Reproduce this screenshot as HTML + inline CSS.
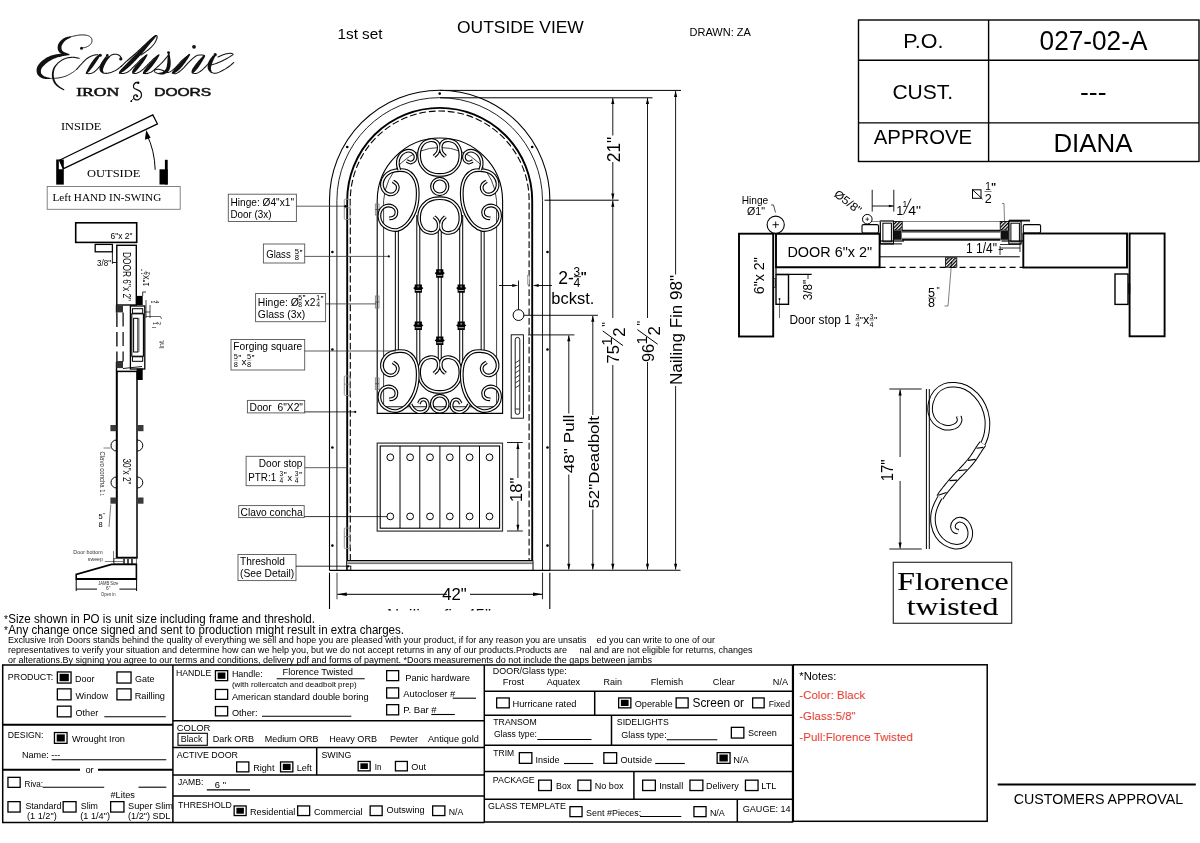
<!DOCTYPE html>
<html><head><meta charset="utf-8"><title>Drawing</title>
<style>
html,body{margin:0;padding:0;background:#fff;overflow:hidden;}
svg{display:block;}
</style></head><body>
<svg width="1200" height="843" viewBox="0 0 1200 843">
<rect x="0" y="0" width="1200" height="843" fill="#fff"/>
<filter id="gs" x="0" y="0" width="1200" height="843" filterUnits="userSpaceOnUse" color-interpolation-filters="sRGB"><feColorMatrix type="saturate" values="0"/></filter>
<g filter="url(#gs)">
<text x="337.5" y="39.1" font-family='"Liberation Sans", sans-serif' font-size="15.2" fill="#000" textLength="45" lengthAdjust="spacingAndGlyphs" >1st set</text>
<text x="457" y="33.4" font-family='"Liberation Sans", sans-serif' font-size="16.2" fill="#000" textLength="126.8" lengthAdjust="spacingAndGlyphs" >OUTSIDE VIEW</text>
<text x="689.5" y="36.2" font-family='"Liberation Sans", sans-serif' font-size="11.4" fill="#000" textLength="61.3" lengthAdjust="spacingAndGlyphs" >DRAWN: ZA</text>
<rect x="858.5" y="20" width="340.5" height="141.5" stroke="#000" stroke-width="1.4" fill="none" />
<line x1="988.6" y1="20" x2="988.6" y2="161.5" stroke="#000" stroke-width="1.4" />
<line x1="858.5" y1="60.3" x2="1199" y2="60.3" stroke="#000" stroke-width="1.4" />
<line x1="858.5" y1="122.9" x2="1199" y2="122.9" stroke="#000" stroke-width="1.4" />
<text x="903.2" y="47.5" font-family='"Liberation Sans", sans-serif' font-size="20.8" fill="#000" textLength="40.2" lengthAdjust="spacingAndGlyphs" >P.O.</text>
<text x="1039.6" y="49.9" font-family='"Liberation Sans", sans-serif' font-size="27" fill="#000" textLength="107.8" lengthAdjust="spacingAndGlyphs" >027-02-A</text>
<text x="892.4" y="98.9" font-family='"Liberation Sans", sans-serif' font-size="20.3" fill="#000" textLength="60.8" lengthAdjust="spacingAndGlyphs" >CUST.</text>
<text x="1080" y="101.2" font-family='"Liberation Sans", sans-serif' font-size="25.5" fill="#000" textLength="26.5" lengthAdjust="spacingAndGlyphs" >---</text>
<text x="873.8" y="143.6" font-family='"Liberation Sans", sans-serif' font-size="19.8" fill="#000" textLength="98.4" lengthAdjust="spacingAndGlyphs" >APPROVE</text>
<text x="1053.4" y="152" font-family='"Liberation Sans", sans-serif' font-size="26" fill="#000" textLength="79" lengthAdjust="spacingAndGlyphs" >DIANA</text>
<path d="M81.70,47.90 L82.07,47.85 L82.56,47.80 L83.15,47.74 L83.81,47.67 L84.50,47.57 L85.19,47.43 L85.87,47.24 L86.50,47.00 L87.12,46.70 L87.78,46.34 L88.46,45.94 L89.12,45.51 L89.76,45.04 L90.33,44.54 L90.82,44.03 L91.20,43.50 L91.49,42.93 L91.71,42.31 L91.86,41.65 L91.95,40.97 L91.97,40.29 L91.92,39.64 L91.79,39.04 L91.60,38.50 L91.33,38.01 L90.97,37.55 L90.54,37.12 L90.04,36.72 L89.48,36.35 L88.87,36.03 L88.21,35.74 L87.50,35.50 L86.74,35.30 L85.90,35.15 L85.00,35.03 L84.06,34.96 L83.07,34.92 L82.06,34.91 L81.03,34.94 L80.00,35.00 L78.89,35.12 L77.64,35.31 L76.34,35.55 L75.03,35.82 L73.78,36.09 L72.65,36.34 L71.70,36.55 L71.00,36.70" fill="none" stroke="#111" stroke-width="0.9" stroke-linecap="round"/>
<path d="M70.83,36.28 L70.39,36.28 L69.84,36.36 L69.18,36.48 L68.44,36.63 L67.65,36.83 L66.83,37.06 L66.00,37.32 L65.19,37.62 L64.41,37.96 L63.69,38.34 L63.03,38.76 L62.41,39.21 L61.81,39.70 L61.23,40.22 L60.68,40.76 L60.16,41.32 L59.68,41.90 L59.24,42.49 L58.85,43.10 L58.51,43.71 L58.22,44.35 L57.99,45.01 L57.82,45.68 L57.70,46.34 L57.64,46.99 L57.63,47.64 L57.66,48.26 L57.73,48.86 L57.85,49.44 L58.00,50.00 L58.20,50.53 L58.44,51.05 L58.73,51.54 L59.06,52.00 L59.43,52.43 L59.84,52.83 L60.29,53.19 L60.77,53.51 L61.28,53.79 L61.84,54.05 L62.49,54.28 L63.20,54.45 L63.94,54.59 L64.70,54.69 L65.46,54.76 L66.20,54.81 L66.89,54.84 L67.50,54.84 L68.01,54.82 L68.40,54.74 L68.60,53.86 L68.25,53.62 L67.76,53.41 L67.19,53.19 L66.55,52.98 L65.88,52.75 L65.20,52.52 L64.55,52.27 L63.97,52.03 L63.50,51.78 L63.16,51.55 L62.89,51.31 L62.63,51.05 L62.41,50.80 L62.22,50.55 L62.07,50.30 L61.94,50.05 L61.83,49.80 L61.74,49.55 L61.66,49.28 L61.60,49.00 L61.55,48.69 L61.51,48.35 L61.48,47.99 L61.47,47.61 L61.49,47.22 L61.52,46.82 L61.58,46.43 L61.66,46.04 L61.76,45.66 L61.89,45.29 L62.07,44.88 L62.31,44.44 L62.58,43.96 L62.90,43.47 L63.26,42.96 L63.64,42.47 L64.04,41.98 L64.46,41.51 L64.89,41.06 L65.31,40.66 L65.77,40.28 L66.34,39.89 L66.98,39.50 L67.67,39.12 L68.38,38.75 L69.08,38.39 L69.74,38.05 L70.33,37.73 L70.82,37.43 L71.17,37.12 Z" fill="#111"/>
<circle cx="81.5" cy="48.2" r="1.5" fill="#111"/>
<path d="M69.48,54.15 L69.05,54.08 L68.49,54.01 L67.84,53.93 L67.09,53.86 L66.29,53.80 L65.43,53.75 L64.53,53.71 L63.62,53.70 L62.71,53.70 L61.83,53.74 L60.96,53.79 L60.06,53.85 L59.13,53.93 L58.18,54.02 L57.20,54.14 L56.22,54.28 L55.24,54.46 L54.25,54.66 L53.27,54.90 L52.31,55.19 L51.38,55.51 L50.45,55.86 L49.53,56.25 L48.61,56.67 L47.72,57.11 L46.84,57.59 L45.98,58.08 L45.15,58.60 L44.35,59.13 L43.59,59.68 L42.85,60.24 L42.12,60.84 L41.41,61.47 L40.72,62.12 L40.06,62.79 L39.43,63.49 L38.84,64.21 L38.31,64.94 L37.83,65.71 L37.42,66.49 L37.10,67.30 L36.86,68.12 L36.69,68.94 L36.60,69.75 L36.57,70.56 L36.61,71.35 L36.72,72.11 L36.89,72.85 L37.11,73.56 L37.41,74.25 L37.79,74.90 L38.25,75.51 L38.75,76.05 L39.30,76.53 L39.87,76.96 L40.47,77.34 L41.08,77.68 L41.71,77.98 L42.34,78.24 L43.00,78.47 L43.72,78.66 L44.50,78.80 L45.30,78.88 L46.11,78.93 L46.91,78.95 L47.68,78.95 L48.39,78.94 L49.02,78.91 L49.54,78.88 L49.94,78.85 L50.06,77.95 L49.66,77.81 L49.14,77.68 L48.52,77.53 L47.84,77.38 L47.12,77.22 L46.39,77.04 L45.68,76.84 L45.03,76.62 L44.46,76.38 L44.00,76.13 L43.58,75.84 L43.14,75.51 L42.72,75.17 L42.33,74.82 L41.98,74.45 L41.67,74.09 L41.41,73.73 L41.21,73.38 L41.08,73.06 L40.99,72.75 L40.93,72.42 L40.88,72.03 L40.86,71.61 L40.86,71.17 L40.90,70.72 L40.97,70.26 L41.07,69.80 L41.21,69.35 L41.38,68.92 L41.58,68.51 L41.83,68.08 L42.15,67.61 L42.54,67.10 L42.98,66.57 L43.48,66.02 L44.02,65.47 L44.59,64.91 L45.19,64.37 L45.80,63.83 L46.41,63.32 L47.04,62.83 L47.70,62.33 L48.39,61.84 L49.11,61.36 L49.85,60.89 L50.60,60.43 L51.37,59.99 L52.14,59.57 L52.92,59.18 L53.69,58.81 L54.46,58.48 L55.27,58.17 L56.11,57.88 L56.98,57.60 L57.86,57.35 L58.74,57.11 L59.63,56.88 L60.50,56.67 L61.36,56.46 L62.17,56.26 L62.98,56.08 L63.81,55.93 L64.66,55.79 L65.51,55.66 L66.34,55.55 L67.13,55.44 L67.86,55.35 L68.52,55.25 L69.08,55.15 L69.52,55.05 Z" fill="#111"/>
<path d="M50.00,78.40 L50.62,78.38 L51.44,78.37 L52.41,78.35 L53.50,78.33 L54.65,78.28 L55.81,78.22 L56.95,78.13 L58.00,78.00 L59.01,77.84 L60.04,77.65 L61.07,77.43 L62.09,77.19 L63.11,76.93 L64.11,76.64 L65.07,76.33 L66.00,76.00 L66.90,75.63 L67.79,75.22 L68.66,74.78 L69.50,74.31 L70.31,73.84 L71.09,73.38 L71.82,72.92 L72.50,72.50 L73.15,72.08 L73.77,71.64 L74.36,71.21 L74.91,70.78 L75.40,70.38 L75.84,70.03 L76.21,69.73 L76.50,69.50" fill="none" stroke="#111" stroke-width="0.9" stroke-linecap="round"/>
<path d="M79.20,58.30 L78.65,58.20 L77.92,58.06 L77.06,57.88 L76.10,57.69 L75.08,57.52 L74.03,57.38 L72.99,57.30 L72.00,57.30 L71.02,57.37 L70.01,57.48 L68.97,57.64 L67.92,57.84 L66.89,58.08 L65.88,58.35 L64.91,58.66 L64.00,59.00 L63.11,59.42 L62.22,59.93 L61.34,60.51 L60.50,61.11 L59.72,61.69 L59.03,62.23 L58.45,62.68 L58.00,63.00" fill="none" stroke="#111" stroke-width="1.05" stroke-linecap="round"/>
<path d="M57.65,62.71 L57.38,62.96 L57.04,63.28 L56.63,63.68 L56.17,64.13 L55.69,64.64 L55.20,65.19 L54.71,65.78 L54.25,66.39 L53.83,67.03 L53.48,67.68 L53.19,68.33 L52.93,69.01 L52.69,69.72 L52.48,70.45 L52.29,71.20 L52.14,71.96 L52.01,72.73 L51.92,73.50 L51.87,74.26 L51.86,75.02 L51.89,75.78 L51.96,76.55 L52.06,77.33 L52.20,78.11 L52.38,78.89 L52.58,79.65 L52.81,80.39 L53.07,81.10 L53.35,81.78 L53.66,82.42 L53.99,83.03 L54.36,83.59 L54.75,84.12 L55.17,84.61 L55.61,85.07 L56.06,85.51 L56.53,85.93 L57.01,86.33 L57.50,86.72 L58.01,87.11 L58.58,87.52 L59.21,87.93 L59.89,88.33 L60.58,88.72 L61.27,89.09 L61.95,89.44 L62.57,89.75 L63.13,90.02 L63.60,90.24 L63.97,90.39 L64.43,89.61 L64.10,89.36 L63.66,89.06 L63.14,88.73 L62.55,88.36 L61.93,87.97 L61.28,87.56 L60.64,87.13 L60.03,86.71 L59.48,86.29 L58.99,85.89 L58.54,85.48 L58.10,85.08 L57.68,84.68 L57.27,84.27 L56.89,83.86 L56.54,83.44 L56.20,83.01 L55.89,82.56 L55.61,82.09 L55.34,81.58 L55.09,81.02 L54.86,80.42 L54.63,79.78 L54.43,79.11 L54.25,78.43 L54.09,77.73 L53.96,77.02 L53.85,76.33 L53.78,75.64 L53.74,74.98 L53.74,74.32 L53.76,73.64 L53.82,72.95 L53.91,72.25 L54.02,71.55 L54.16,70.86 L54.32,70.19 L54.50,69.53 L54.70,68.91 L54.92,68.32 L55.17,67.76 L55.48,67.19 L55.86,66.61 L56.26,66.04 L56.68,65.48 L57.10,64.95 L57.50,64.46 L57.85,64.01 L58.15,63.62 L58.35,63.29 Z" fill="#111"/>
<path d="M76.50,69.50 L76.84,69.12 L77.27,68.62 L77.79,68.04 L78.38,67.38 L79.00,66.67 L79.66,65.94 L80.33,65.21 L81.00,64.50 L81.68,63.78 L82.39,63.00 L83.14,62.19 L83.91,61.38 L84.68,60.57 L85.46,59.81 L86.24,59.11 L87.00,58.50 L87.76,57.97 L88.54,57.49 L89.32,57.06 L90.09,56.68 L90.86,56.34 L91.61,56.03 L92.32,55.75 L93.00,55.50 L93.67,55.28 L94.34,55.11 L95.00,54.97 L95.62,54.86 L96.21,54.78 L96.73,54.71 L97.16,54.66 L97.50,54.60" fill="none" stroke="#111" stroke-width="1.05" stroke-linecap="round"/>
<path d="M99.86,54.00 L99.54,54.09 L99.21,54.27 L98.85,54.49 L98.46,54.77 L98.04,55.09 L97.60,55.44 L97.16,55.82 L96.71,56.22 L96.26,56.65 L95.83,57.08 L95.40,57.54 L94.96,58.02 L94.52,58.53 L94.07,59.07 L93.63,59.62 L93.18,60.19 L92.75,60.76 L92.32,61.33 L91.91,61.90 L91.51,62.46 L91.12,63.03 L90.74,63.60 L90.36,64.19 L90.00,64.77 L89.65,65.36 L89.31,65.94 L88.98,66.51 L88.66,67.08 L88.36,67.63 L88.07,68.16 L87.79,68.70 L87.49,69.25 L87.19,69.81 L86.91,70.37 L86.63,70.92 L86.39,71.44 L86.17,71.93 L85.99,72.38 L85.87,72.78 L85.83,73.14 L86.57,73.66 L86.89,73.51 L87.23,73.26 L87.60,72.95 L87.99,72.58 L88.40,72.17 L88.83,71.73 L89.26,71.27 L89.69,70.79 L90.12,70.31 L90.53,69.84 L90.93,69.36 L91.33,68.86 L91.73,68.35 L92.14,67.82 L92.54,67.28 L92.94,66.73 L93.33,66.18 L93.73,65.63 L94.11,65.08 L94.49,64.54 L94.88,63.99 L95.27,63.41 L95.66,62.83 L96.05,62.24 L96.44,61.65 L96.81,61.07 L97.18,60.50 L97.53,59.95 L97.86,59.42 L98.17,58.92 L98.47,58.44 L98.77,57.95 L99.08,57.46 L99.38,56.99 L99.66,56.53 L99.92,56.09 L100.15,55.67 L100.34,55.28 L100.48,54.93 L100.54,54.60 Z" fill="#111"/>
<circle cx="100.3" cy="55.2" r="1.5" fill="#111"/>
<path d="M86.20,73.40 L86.45,73.43 L86.76,73.48 L87.14,73.54 L87.57,73.60 L88.03,73.65 L88.51,73.67 L89.01,73.66 L89.50,73.60 L89.99,73.52 L90.51,73.43 L91.03,73.33 L91.58,73.19 L92.15,73.00 L92.74,72.75 L93.36,72.42 L94.00,72.00 L94.69,71.47 L95.43,70.83 L96.21,70.12 L97.00,69.34 L97.79,68.52 L98.57,67.67 L99.31,66.83 L100.00,66.00 L100.65,65.15 L101.27,64.24 L101.88,63.30 L102.46,62.36 L103.01,61.43 L103.54,60.54 L104.03,59.72 L104.50,59.00 L104.94,58.35 L105.36,57.76 L105.76,57.21 L106.13,56.71 L106.46,56.27 L106.76,55.89 L107.00,55.56 L107.20,55.30" fill="none" stroke="#111" stroke-width="1.05" stroke-linecap="round"/>
<circle cx="107.3" cy="55.4" r="1.3" fill="#111"/>
<path d="M108.80,57.20 L109.04,57.00 L109.34,56.72 L109.71,56.39 L110.12,56.03 L110.56,55.67 L111.03,55.32 L111.52,55.03 L112.00,54.80 L112.51,54.63 L113.06,54.49 L113.64,54.38 L114.23,54.29 L114.83,54.24 L115.41,54.23 L115.98,54.24 L116.50,54.30 L117.00,54.40 L117.49,54.55 L117.98,54.74 L118.44,54.96 L118.89,55.20 L119.30,55.46 L119.67,55.73 L120.00,56.00 L120.29,56.30 L120.53,56.65 L120.74,57.02 L120.92,57.41 L121.07,57.78 L121.20,58.11 L121.31,58.39 L121.40,58.60" fill="none" stroke="#111" stroke-width="1.05" stroke-linecap="round"/>
<circle cx="120.8" cy="58.9" r="1.6" fill="#111"/>
<path d="M109.21,56.15 L108.85,56.19 L108.45,56.30 L108.00,56.48 L107.50,56.71 L106.96,56.98 L106.41,57.30 L105.84,57.66 L105.28,58.05 L104.74,58.49 L104.23,58.95 L103.76,59.44 L103.30,59.96 L102.85,60.51 L102.41,61.09 L101.99,61.69 L101.60,62.30 L101.23,62.92 L100.89,63.53 L100.59,64.13 L100.33,64.71 L100.11,65.27 L99.91,65.82 L99.75,66.38 L99.62,66.94 L99.52,67.50 L99.47,68.06 L99.45,68.61 L99.47,69.16 L99.54,69.71 L99.67,70.27 L99.90,70.87 L100.21,71.40 L100.56,71.85 L100.93,72.23 L101.31,72.56 L101.69,72.84 L102.04,73.06 L102.37,73.23 L102.65,73.33 L102.94,73.37 L103.66,72.83 L103.68,72.51 L103.60,72.17 L103.47,71.82 L103.32,71.46 L103.18,71.10 L103.04,70.75 L102.94,70.41 L102.89,70.12 L102.89,69.90 L102.93,69.73 L102.98,69.52 L103.04,69.25 L103.12,68.96 L103.21,68.64 L103.31,68.30 L103.43,67.94 L103.57,67.55 L103.73,67.15 L103.89,66.73 L104.07,66.29 L104.27,65.84 L104.50,65.34 L104.75,64.80 L105.03,64.25 L105.32,63.68 L105.62,63.11 L105.92,62.56 L106.22,62.02 L106.51,61.51 L106.77,61.05 L107.04,60.62 L107.35,60.18 L107.70,59.73 L108.07,59.27 L108.45,58.83 L108.81,58.39 L109.15,57.98 L109.44,57.58 L109.67,57.21 L109.79,56.85 Z" fill="#111"/>
<path d="M103.30,73.10 L103.58,73.13 L103.93,73.17 L104.36,73.23 L104.84,73.28 L105.35,73.33 L105.90,73.35 L106.45,73.35 L107.00,73.30 L107.56,73.22 L108.16,73.11 L108.78,72.98 L109.42,72.82 L110.07,72.64 L110.72,72.44 L111.37,72.23 L112.00,72.00 L112.63,71.75 L113.27,71.47 L113.92,71.17 L114.56,70.86 L115.20,70.53 L115.82,70.19 L116.42,69.84 L117.00,69.50 L117.58,69.13 L118.16,68.71 L118.75,68.28 L119.31,67.84 L119.84,67.43 L120.30,67.05 L120.70,66.73 L121.00,66.50" fill="none" stroke="#111" stroke-width="1.05" stroke-linecap="round"/>
<path d="M121.00,66.50 L121.54,66.00 L122.26,65.32 L123.11,64.52 L124.06,63.62 L125.07,62.69 L126.09,61.74 L127.08,60.83 L128.00,60.00 L128.88,59.23 L129.75,58.48 L130.62,57.74 L131.50,57.00 L132.38,56.26 L133.25,55.52 L134.12,54.77 L135.00,54.00 L135.88,53.21 L136.76,52.40 L137.65,51.58 L138.53,50.75 L139.41,49.92 L140.29,49.10 L141.15,48.29 L142.00,47.50 L142.85,46.72 L143.70,45.93 L144.54,45.15 L145.38,44.38 L146.19,43.62 L146.99,42.88 L147.76,42.17 L148.50,41.50 L149.21,40.85 L149.90,40.20 L150.57,39.57 L151.22,38.97 L151.84,38.40 L152.43,37.88 L152.98,37.41 L153.50,37.00 L153.99,36.64 L154.45,36.32 L154.88,36.04 L155.28,35.81 L155.65,35.64 L155.97,35.52 L156.26,35.48 L156.50,35.50 L156.71,35.60 L156.88,35.76 L157.02,35.99 L157.12,36.28 L157.18,36.63 L157.18,37.04 L157.12,37.49 L157.00,38.00 L156.81,38.58 L156.57,39.25 L156.26,39.99 L155.91,40.78 L155.50,41.60 L155.04,42.42 L154.54,43.23 L154.00,44.00 L153.40,44.76 L152.73,45.52 L152.01,46.29 L151.25,47.06 L150.46,47.82 L149.64,48.57 L148.82,49.30 L148.00,50.00 L147.12,50.71 L146.16,51.44 L145.14,52.17 L144.12,52.88 L143.16,53.54 L142.28,54.12 L141.55,54.62 L141.00,55.00" fill="none" stroke="#111" stroke-width="1.05" stroke-linecap="round"/>
<path d="M155.89,35.08 L155.38,35.27 L154.84,35.61 L154.22,36.03 L153.55,36.53 L152.83,37.09 L152.07,37.70 L151.29,38.36 L150.50,39.05 L149.70,39.76 L148.91,40.48 L148.13,41.24 L147.31,42.04 L146.48,42.89 L145.63,43.78 L144.77,44.68 L143.91,45.60 L143.05,46.51 L142.20,47.42 L141.36,48.31 L140.54,49.17 L139.72,50.01 L138.90,50.86 L138.08,51.71 L137.26,52.56 L136.44,53.40 L135.63,54.24 L134.82,55.07 L134.03,55.90 L133.24,56.71 L132.46,57.51 L131.69,58.31 L130.91,59.12 L130.12,59.92 L129.34,60.73 L128.58,61.52 L127.83,62.29 L127.10,63.03 L126.41,63.75 L125.75,64.43 L125.13,65.07 L124.56,65.66 L124.01,66.22 L123.48,66.75 L122.98,67.26 L122.50,67.75 L122.04,68.21 L121.61,68.66 L121.21,69.09 L120.83,69.50 L120.49,69.91 L120.18,70.29 L119.90,70.65 L119.67,70.99 L119.46,71.31 L119.29,71.61 L119.16,71.89 L119.05,72.15 L118.98,72.39 L118.94,72.62 L118.98,72.88 L119.62,73.52 L119.90,73.54 L120.13,73.49 L120.37,73.40 L120.62,73.29 L120.88,73.15 L121.16,72.99 L121.46,72.80 L121.79,72.59 L122.14,72.35 L122.51,72.09 L122.92,71.81 L123.35,71.50 L123.82,71.17 L124.31,70.81 L124.84,70.42 L125.39,69.99 L125.98,69.53 L126.58,69.03 L127.22,68.50 L127.87,67.93 L128.55,67.32 L129.26,66.66 L130.00,65.97 L130.76,65.24 L131.55,64.48 L132.34,63.71 L133.15,62.91 L133.95,62.11 L134.75,61.30 L135.54,60.49 L136.32,59.68 L137.11,58.85 L137.90,58.00 L138.70,57.15 L139.50,56.28 L140.30,55.41 L141.09,54.52 L141.89,53.63 L142.68,52.73 L143.46,51.83 L144.25,50.91 L145.06,49.95 L145.86,48.98 L146.66,48.00 L147.45,47.02 L148.23,46.05 L148.98,45.11 L149.72,44.20 L150.42,43.33 L151.09,42.52 L151.74,41.73 L152.41,40.95 L153.08,40.17 L153.74,39.41 L154.37,38.68 L154.95,37.99 L155.48,37.35 L155.94,36.76 L156.30,36.23 L156.51,35.72 Z" fill="#111"/>
<path d="M119.30,73.20 L119.62,73.23 L120.04,73.29 L120.53,73.35 L121.09,73.42 L121.68,73.47 L122.30,73.49 L122.91,73.47 L123.50,73.40 L124.08,73.29 L124.66,73.17 L125.25,73.02 L125.86,72.84 L126.48,72.61 L127.13,72.31 L127.80,71.95 L128.50,71.50 L129.24,70.95 L130.02,70.30 L130.83,69.57 L131.66,68.79 L132.50,67.97 L133.34,67.13 L134.18,66.30 L135.00,65.50 L135.82,64.70 L136.65,63.86 L137.48,63.00 L138.31,62.14 L139.14,61.29 L139.95,60.48 L140.74,59.71 L141.50,59.00 L142.27,58.34 L143.07,57.69 L143.88,57.07 L144.66,56.49 L145.38,55.97 L146.04,55.50 L146.58,55.11 L147.00,54.80" fill="none" stroke="#111" stroke-width="1.05" stroke-linecap="round"/>
<path d="M146.65,54.52 L146.23,54.74 L145.78,55.09 L145.28,55.52 L144.74,56.02 L144.17,56.57 L143.58,57.16 L142.99,57.76 L142.40,58.37 L141.82,58.96 L141.28,59.51 L140.75,60.05 L140.20,60.62 L139.65,61.20 L139.09,61.79 L138.53,62.39 L137.99,62.99 L137.45,63.58 L136.94,64.17 L136.46,64.74 L136.00,65.29 L135.58,65.82 L135.17,66.35 L134.78,66.87 L134.42,67.38 L134.07,67.88 L133.75,68.36 L133.46,68.82 L133.19,69.26 L132.95,69.67 L132.75,70.06 L132.57,70.42 L132.42,70.76 L132.30,71.08 L132.21,71.37 L132.14,71.64 L132.10,71.89 L132.09,72.12 L132.10,72.33 L132.14,72.53 L132.23,72.75 L132.97,73.25 L133.21,73.25 L133.41,73.20 L133.61,73.13 L133.81,73.03 L134.02,72.92 L134.24,72.78 L134.47,72.61 L134.71,72.42 L134.97,72.20 L135.25,71.94 L135.56,71.64 L135.89,71.31 L136.24,70.94 L136.60,70.55 L136.98,70.12 L137.36,69.68 L137.76,69.21 L138.17,68.72 L138.58,68.22 L139.00,67.71 L139.43,67.18 L139.88,66.61 L140.36,66.02 L140.84,65.40 L141.34,64.76 L141.84,64.11 L142.33,63.45 L142.81,62.79 L143.28,62.13 L143.72,61.49 L144.16,60.83 L144.61,60.13 L145.07,59.41 L145.52,58.69 L145.96,57.98 L146.36,57.29 L146.71,56.64 L147.01,56.05 L147.24,55.53 L147.35,55.08 Z" fill="#111"/>
<path d="M132.60,73.00 L132.85,73.05 L133.17,73.14 L133.56,73.24 L133.99,73.35 L134.46,73.44 L134.96,73.49 L135.48,73.48 L136.00,73.40 L136.54,73.26 L137.10,73.08 L137.69,72.86 L138.31,72.60 L138.94,72.29 L139.61,71.92 L140.29,71.49 L141.00,71.00 L141.74,70.43 L142.52,69.76 L143.33,69.04 L144.16,68.26 L145.00,67.44 L145.84,66.62 L146.68,65.80 L147.50,65.00 L148.32,64.19 L149.16,63.34 L150.00,62.48 L150.84,61.61 L151.67,60.75 L152.48,59.94 L153.26,59.18 L154.00,58.50 L154.73,57.88 L155.47,57.29 L156.20,56.74 L156.91,56.24 L157.56,55.79 L158.14,55.40 L158.62,55.07 L159.00,54.80" fill="none" stroke="#111" stroke-width="1.05" stroke-linecap="round"/>
<path d="M158.65,54.52 L158.23,54.74 L157.78,55.09 L157.28,55.52 L156.74,56.02 L156.17,56.57 L155.58,57.16 L154.99,57.76 L154.40,58.37 L153.82,58.96 L153.28,59.51 L152.75,60.06 L152.21,60.63 L151.66,61.21 L151.11,61.80 L150.56,62.40 L150.02,62.99 L149.49,63.58 L148.98,64.16 L148.50,64.71 L148.04,65.25 L147.60,65.76 L147.17,66.27 L146.75,66.77 L146.35,67.27 L145.96,67.75 L145.59,68.22 L145.24,68.68 L144.91,69.12 L144.61,69.55 L144.33,69.95 L144.09,70.33 L143.86,70.70 L143.66,71.05 L143.48,71.39 L143.32,71.71 L143.18,72.02 L143.07,72.30 L142.99,72.57 L142.95,72.83 L142.97,73.10 L143.63,73.70 L143.89,73.70 L144.15,73.64 L144.41,73.54 L144.69,73.41 L144.98,73.25 L145.29,73.06 L145.62,72.85 L145.96,72.61 L146.31,72.34 L146.67,72.05 L147.04,71.74 L147.43,71.39 L147.83,71.02 L148.26,70.62 L148.69,70.20 L149.14,69.75 L149.59,69.28 L150.04,68.79 L150.50,68.28 L150.96,67.75 L151.43,67.21 L151.90,66.63 L152.39,66.02 L152.88,65.39 L153.38,64.75 L153.87,64.10 L154.35,63.44 L154.83,62.78 L155.28,62.13 L155.72,61.49 L156.16,60.83 L156.61,60.13 L157.07,59.41 L157.52,58.69 L157.96,57.98 L158.36,57.29 L158.71,56.64 L159.01,56.05 L159.24,55.53 L159.35,55.08 Z" fill="#111"/>
<path d="M143.30,73.40 L143.58,73.42 L143.93,73.47 L144.36,73.52 L144.84,73.58 L145.35,73.61 L145.90,73.62 L146.45,73.59 L147.00,73.50 L147.55,73.37 L148.12,73.23 L148.71,73.06 L149.32,72.85 L149.96,72.60 L150.61,72.30 L151.29,71.93 L152.00,71.50 L152.75,70.98 L153.55,70.36 L154.39,69.67 L155.25,68.94 L156.11,68.18 L156.95,67.42 L157.75,66.69 L158.50,66.00 L159.20,65.35 L159.87,64.73 L160.51,64.11 L161.12,63.50 L161.73,62.89 L162.32,62.27 L162.91,61.65 L163.50,61.00 L164.11,60.32 L164.74,59.60 L165.38,58.86 L166.00,58.12 L166.59,57.40 L167.13,56.71 L167.61,56.07 L168.00,55.50 L168.30,54.98 L168.52,54.50 L168.68,54.06 L168.78,53.66 L168.85,53.30 L168.90,52.98 L168.95,52.71 L169.00,52.50" fill="none" stroke="#111" stroke-width="1.05" stroke-linecap="round"/>
<circle cx="168.5" cy="52.6" r="1.4" fill="#111"/>
<path d="M168.15,53.03 L168.02,53.33 L167.94,53.72 L167.87,54.16 L167.82,54.66 L167.77,55.19 L167.72,55.76 L167.68,56.33 L167.64,56.92 L167.60,57.49 L167.56,58.04 L167.51,58.61 L167.48,59.20 L167.45,59.80 L167.43,60.40 L167.40,61.00 L167.37,61.60 L167.33,62.18 L167.28,62.74 L167.22,63.28 L167.15,63.80 L167.06,64.35 L166.97,64.91 L166.88,65.47 L166.78,66.00 L166.67,66.51 L166.56,67.00 L166.43,67.46 L166.30,67.87 L166.15,68.25 L165.98,68.60 L165.79,68.94 L165.55,69.29 L165.29,69.65 L164.99,70.00 L164.68,70.34 L164.34,70.67 L164.00,70.98 L163.65,71.27 L163.29,71.54 L162.97,71.77 L162.64,71.96 L162.23,72.13 L161.76,72.28 L161.23,72.42 L160.69,72.54 L160.16,72.64 L159.65,72.75 L159.18,72.86 L158.77,72.98 L158.47,73.15 L158.53,74.05 L158.83,74.18 L159.21,74.27 L159.68,74.36 L160.22,74.44 L160.81,74.50 L161.43,74.54 L162.08,74.54 L162.73,74.50 L163.40,74.40 L164.03,74.23 L164.61,74.02 L165.17,73.77 L165.71,73.47 L166.25,73.14 L166.77,72.77 L167.28,72.37 L167.76,71.93 L168.21,71.46 L168.63,70.95 L169.02,70.40 L169.36,69.81 L169.64,69.20 L169.88,68.57 L170.07,67.94 L170.23,67.30 L170.35,66.66 L170.45,66.03 L170.53,65.41 L170.60,64.81 L170.65,64.20 L170.69,63.55 L170.71,62.89 L170.69,62.23 L170.66,61.58 L170.61,60.93 L170.55,60.30 L170.48,59.68 L170.40,59.09 L170.32,58.51 L170.24,57.96 L170.16,57.39 L170.07,56.80 L169.96,56.20 L169.85,55.62 L169.73,55.06 L169.61,54.53 L169.48,54.04 L169.35,53.61 L169.22,53.25 L169.05,52.97 Z" fill="#111"/>
<path d="M158.50,73.60 L158.21,73.50 L157.79,73.37 L157.29,73.21 L156.75,73.04 L156.21,72.85 L155.71,72.64 L155.29,72.42 L155.00,72.20 L154.81,71.95 L154.67,71.67 L154.59,71.37 L154.56,71.06 L154.59,70.75 L154.67,70.46 L154.81,70.21 L155.00,70.00 L155.26,69.83 L155.61,69.67 L156.01,69.54 L156.47,69.44 L156.96,69.36 L157.47,69.31 L157.99,69.29 L158.50,69.30 L159.05,69.37 L159.66,69.49 L160.31,69.66 L160.97,69.86 L161.60,70.05 L162.17,70.24 L162.65,70.39 L163.00,70.50" fill="none" stroke="#111" stroke-width="1.05" stroke-linecap="round"/>
<path d="M163.00,70.50 L163.38,70.69 L163.88,70.99 L164.46,71.35 L165.12,71.72 L165.83,72.06 L166.56,72.34 L167.29,72.50 L168.00,72.50 L168.69,72.36 L169.38,72.13 L170.09,71.81 L170.81,71.41 L171.56,70.92 L172.34,70.36 L173.15,69.71 L174.00,69.00 L174.91,68.16 L175.87,67.17 L176.87,66.08 L177.90,64.92 L178.94,63.74 L179.98,62.58 L181.01,61.49 L182.00,60.50 L183.02,59.57 L184.11,58.64 L185.21,57.73 L186.30,56.87 L187.32,56.07 L188.24,55.36 L189.02,54.76 L189.60,54.30" fill="none" stroke="#111" stroke-width="1.05" stroke-linecap="round"/>
<path d="M189.45,53.91 L189.01,54.12 L188.53,54.46 L188.01,54.89 L187.43,55.39 L186.83,55.94 L186.21,56.53 L185.57,57.14 L184.94,57.75 L184.32,58.36 L183.73,58.94 L183.15,59.53 L182.55,60.15 L181.95,60.78 L181.35,61.44 L180.75,62.09 L180.15,62.74 L179.58,63.38 L179.02,64.00 L178.49,64.58 L177.99,65.13 L177.52,65.66 L177.05,66.18 L176.59,66.68 L176.15,67.17 L175.72,67.65 L175.31,68.11 L174.92,68.56 L174.55,68.98 L174.21,69.39 L173.90,69.77 L173.62,70.12 L173.36,70.45 L173.10,70.77 L172.86,71.07 L172.64,71.36 L172.43,71.64 L172.25,71.92 L172.10,72.18 L171.98,72.45 L171.94,72.73 L172.46,73.47 L172.74,73.52 L173.01,73.52 L173.31,73.48 L173.64,73.41 L174.00,73.30 L174.38,73.16 L174.79,72.98 L175.22,72.76 L175.66,72.51 L176.10,72.23 L176.54,71.92 L177.00,71.59 L177.47,71.22 L177.95,70.83 L178.44,70.40 L178.95,69.94 L179.46,69.46 L179.97,68.96 L180.49,68.42 L181.01,67.87 L181.53,67.27 L182.07,66.64 L182.62,65.97 L183.17,65.28 L183.72,64.57 L184.26,63.86 L184.79,63.14 L185.30,62.43 L185.80,61.73 L186.27,61.06 L186.74,60.37 L187.22,59.65 L187.71,58.91 L188.20,58.17 L188.66,57.45 L189.08,56.75 L189.46,56.09 L189.78,55.49 L190.02,54.96 L190.15,54.49 Z" fill="#111"/>
<circle cx="194" cy="46.8" r="1.9" fill="#111"/>
<path d="M172.20,73.10 L172.48,73.16 L172.83,73.27 L173.25,73.41 L173.72,73.55 L174.25,73.65 L174.81,73.70 L175.39,73.66 L176.00,73.50 L176.64,73.23 L177.32,72.89 L178.04,72.48 L178.80,71.99 L179.58,71.45 L180.38,70.85 L181.19,70.20 L182.00,69.50 L182.83,68.72 L183.68,67.84 L184.55,66.88 L185.44,65.88 L186.33,64.86 L187.23,63.85 L188.12,62.89 L189.00,62.00 L189.89,61.14 L190.79,60.28 L191.69,59.42 L192.59,58.59 L193.48,57.82 L194.36,57.11 L195.20,56.50 L196.00,56.00 L196.78,55.62 L197.54,55.36 L198.28,55.19 L199.00,55.09 L199.69,55.04 L200.34,55.02 L200.94,55.01 L201.50,55.00 L202.02,55.00 L202.50,55.05 L202.94,55.13 L203.34,55.24 L203.70,55.35 L204.02,55.45 L204.29,55.54 L204.50,55.60" fill="none" stroke="#111" stroke-width="1.05" stroke-linecap="round"/>
<path d="M204.32,55.03 L203.92,55.25 L203.48,55.60 L202.99,56.03 L202.46,56.53 L201.90,57.08 L201.33,57.67 L200.75,58.27 L200.19,58.87 L199.65,59.45 L199.15,59.99 L198.68,60.52 L198.20,61.06 L197.74,61.61 L197.29,62.16 L196.84,62.71 L196.41,63.26 L195.99,63.79 L195.60,64.31 L195.22,64.82 L194.86,65.29 L194.53,65.75 L194.20,66.20 L193.89,66.64 L193.58,67.07 L193.29,67.50 L193.01,67.92 L192.75,68.34 L192.51,68.75 L192.29,69.16 L192.09,69.57 L191.92,69.98 L191.77,70.38 L191.66,70.76 L191.58,71.12 L191.52,71.45 L191.49,71.77 L191.49,72.05 L191.51,72.30 L191.56,72.52 L191.66,72.74 L192.74,73.26 L192.98,73.19 L193.19,73.07 L193.40,72.91 L193.60,72.74 L193.80,72.55 L194.01,72.34 L194.23,72.12 L194.45,71.90 L194.67,71.67 L194.91,71.43 L195.16,71.17 L195.44,70.89 L195.73,70.57 L196.05,70.24 L196.37,69.88 L196.71,69.49 L197.06,69.08 L197.41,68.64 L197.77,68.19 L198.14,67.71 L198.50,67.21 L198.87,66.68 L199.24,66.13 L199.62,65.57 L200.00,64.99 L200.38,64.40 L200.75,63.80 L201.13,63.20 L201.49,62.60 L201.85,62.01 L202.23,61.39 L202.63,60.73 L203.06,60.03 L203.48,59.33 L203.90,58.63 L204.29,57.95 L204.64,57.31 L204.94,56.73 L205.17,56.21 L205.28,55.77 Z" fill="#111"/>
<path d="M192.30,72.90 L192.57,72.96 L192.92,73.07 L193.34,73.20 L193.81,73.33 L194.32,73.44 L194.86,73.50 L195.43,73.50 L196.00,73.40 L196.60,73.22 L197.24,72.99 L197.91,72.70 L198.61,72.36 L199.32,71.96 L200.05,71.52 L200.78,71.03 L201.50,70.50 L202.24,69.89 L203.01,69.21 L203.80,68.46 L204.59,67.66 L205.37,66.85 L206.13,66.04 L206.84,65.25 L207.50,64.50 L208.11,63.77 L208.70,63.03 L209.26,62.29 L209.78,61.56 L210.27,60.86 L210.72,60.19 L211.13,59.56 L211.50,59.00 L211.82,58.48 L212.09,58.00 L212.31,57.56 L212.50,57.16 L212.66,56.80 L212.79,56.48 L212.90,56.21 L213.00,56.00" fill="none" stroke="#111" stroke-width="1.05" stroke-linecap="round"/>
<circle cx="215.2" cy="54.7" r="1.6" fill="#111"/>
<path d="M214.85,54.72 L214.54,54.79 L214.23,54.95 L213.88,55.16 L213.52,55.42 L213.13,55.72 L212.73,56.06 L212.32,56.43 L211.92,56.82 L211.53,57.24 L211.17,57.67 L210.83,58.10 L210.49,58.55 L210.16,59.02 L209.82,59.53 L209.49,60.06 L209.18,60.60 L208.88,61.17 L208.61,61.74 L208.37,62.33 L208.16,62.92 L208.00,63.49 L207.86,64.06 L207.75,64.65 L207.66,65.23 L207.61,65.82 L207.58,66.42 L207.59,67.00 L207.63,67.59 L207.72,68.16 L207.85,68.75 L208.05,69.35 L208.32,69.92 L208.63,70.44 L208.97,70.93 L209.32,71.36 L209.67,71.76 L210.01,72.10 L210.33,72.38 L210.62,72.58 L210.90,72.71 L211.70,72.29 L211.74,71.95 L211.67,71.57 L211.57,71.15 L211.44,70.72 L211.30,70.26 L211.17,69.80 L211.06,69.35 L210.98,68.94 L210.94,68.57 L210.95,68.25 L210.98,67.92 L211.03,67.54 L211.08,67.14 L211.16,66.73 L211.24,66.30 L211.34,65.86 L211.46,65.42 L211.58,64.97 L211.70,64.52 L211.84,64.08 L211.98,63.65 L212.14,63.21 L212.33,62.74 L212.53,62.25 L212.75,61.76 L212.97,61.25 L213.20,60.76 L213.42,60.26 L213.64,59.78 L213.83,59.33 L214.02,58.91 L214.22,58.47 L214.44,58.03 L214.66,57.59 L214.89,57.15 L215.09,56.73 L215.28,56.33 L215.43,55.96 L215.54,55.61 L215.55,55.28 Z" fill="#111"/>
<path d="M210.30,65.00 L210.72,64.90 L211.27,64.78 L211.92,64.64 L212.65,64.47 L213.44,64.27 L214.28,64.05 L215.14,63.79 L216.00,63.50 L216.90,63.16 L217.86,62.78 L218.88,62.36 L219.92,61.91 L220.97,61.44 L222.02,60.96 L223.03,60.48 L224.00,60.00 L224.96,59.51 L225.94,58.98 L226.92,58.44 L227.88,57.89 L228.79,57.36 L229.62,56.86 L230.37,56.40 L231.00,56.00 L231.52,55.66 L231.97,55.37 L232.34,55.12 L232.62,54.91 L232.84,54.71 L232.97,54.54 L233.02,54.37 L233.00,54.20 L232.88,54.03 L232.67,53.86 L232.37,53.70 L232.00,53.56 L231.56,53.44 L231.08,53.36 L230.55,53.31 L230.00,53.30 L229.39,53.34 L228.71,53.42 L227.97,53.54 L227.19,53.69 L226.38,53.86 L225.57,54.06 L224.77,54.27 L224.00,54.50 L223.21,54.77 L222.36,55.09 L221.49,55.45 L220.62,55.83 L219.81,56.19 L219.08,56.52 L218.46,56.80 L218.00,57.00" fill="none" stroke="#111" stroke-width="1.05" stroke-linecap="round"/>
<path d="M211.30,72.50 L211.65,72.58 L212.10,72.71 L212.64,72.86 L213.24,73.02 L213.90,73.16 L214.59,73.25 L215.29,73.27 L216.00,73.20 L216.73,73.03 L217.50,72.79 L218.31,72.49 L219.14,72.14 L219.98,71.76 L220.83,71.35 L221.68,70.92 L222.50,70.50 L223.32,70.06 L224.16,69.59 L225.01,69.10 L225.86,68.58 L226.69,68.06 L227.49,67.53 L228.27,67.01 L229.00,66.50 L229.71,65.97 L230.43,65.41 L231.14,64.82 L231.81,64.25 L232.43,63.71 L232.98,63.22 L233.44,62.81 L233.80,62.50" fill="none" stroke="#111" stroke-width="1.05" stroke-linecap="round"/>
<text x="76.2" y="96.3" font-family='"Liberation Serif", serif' font-size="11.8" fill="#111" textLength="43" lengthAdjust="spacingAndGlyphs" stroke="#111" stroke-width="0.45">IRON</text>
<text x="154.2" y="96.3" font-family='"Liberation Sans", sans-serif' font-size="11.1" fill="#111" textLength="57" lengthAdjust="spacingAndGlyphs" stroke="#111" stroke-width="0.5">DOORS</text>
<path d="M137.8,82.6 C135.5,82 132.5,84.5 133.6,87.4 C134.5,89.5 138.5,89.5 140.3,91.5 C142.5,94 141.8,98.2 138.5,99.6 C135.8,100.7 133.2,99 133.6,96.6 C134,94.6 136.6,94.4 137.4,95.8" stroke="#111" stroke-width="1.3" fill="none" />
<circle cx="138.2" cy="82.7" r="1.2" fill="#000"/>
<circle cx="137.2" cy="96.2" r="1" fill="#000"/>
<path d="M133.8,98.5 C132.5,99.5 131.5,100.3 131.2,101.2" stroke="#111" stroke-width="1" fill="none" />
<circle cx="131.3" cy="101.2" r="0.9" fill="#000"/>
<text x="61" y="129.5" font-family='"Liberation Serif", serif' font-size="11.3" fill="#000" textLength="40.3" lengthAdjust="spacingAndGlyphs" >INSIDE</text>
<rect x="56.2" y="159.5" width="7.6" height="25.1" fill="#000"/>
<path d="M58.8,160.6 L58.8,169.2 L62.6,169.2 L59.6,160.6 Z" stroke="#000" stroke-width="0" fill="#fff" />
<path d="M59.4,160.3 L152.8,114.9 L157.5,123.9 L63.6,168.6 Z" stroke="#000" stroke-width="1.2" fill="none" />
<rect x="164.9" y="159.8" width="2.8" height="24.7" fill="#000"/>
<rect x="159.5" y="169.3" width="8.2" height="15.2" fill="#000"/>
<path d="M155.2,169.8 Q154.5,150 147,135" stroke="#000" stroke-width="1" fill="none" />
<path d="M146.2,129.9 L144.9,139.8 L150.6,137.8 Z" stroke="#000" stroke-width="0" fill="#000" />
<text x="87" y="177.4" font-family='"Liberation Serif", serif' font-size="11.3" fill="#000" textLength="53.4" lengthAdjust="spacingAndGlyphs" >OUTSIDE</text>
<rect x="47.2" y="186.5" width="133" height="22.8" stroke="#777" stroke-width="0.9" fill="none" />
<text x="52.4" y="200.9" font-family='"Liberation Serif", serif' font-size="11" fill="#000" textLength="108.9" lengthAdjust="spacingAndGlyphs" >Left HAND IN-SWING</text>
<path d="M329.5,570.3 L329.5,200.4 A110.2,110.2 0 0 1 549.9,200.4 L549.9,570.3" stroke="#000" stroke-width="1.1" fill="none" />
<path d="M336.9,570.3 L336.9,200.4 A102.8,102.8 0 0 1 542.5,200.4 L542.5,570.3" stroke="#222" stroke-width="1" fill="none" />
<path d="M347.2,560.8 L347.2,200.4 A92.5,92.5 0 0 1 532.2,200.4 L532.2,560.8" stroke="#000" stroke-width="1.9" fill="none" />
<path d="M350.3,560.8 L350.3,200.4 A89.4,89.4 0 0 1 529.1,200.4 L529.1,560.8" stroke="#000" stroke-width="1.1" fill="none" stroke-dasharray="6.8 2.8"/>
<line x1="329.5" y1="570.3" x2="550.3" y2="570.3" stroke="#000" stroke-width="1.2" />
<line x1="347" y1="560.6" x2="532.5" y2="560.6" stroke="#000" stroke-width="1.3" />
<line x1="347.5" y1="562.3" x2="532.5" y2="562.3" stroke="#aaa" stroke-width="2.2" />
<line x1="347.5" y1="563.6" x2="532.5" y2="563.6" stroke="#555" stroke-width="0.8" />
<line x1="346.7" y1="560.5" x2="346.7" y2="570.3" stroke="#000" stroke-width="1" />
<rect x="347.2" y="566.1" width="3.6" height="4.2" stroke="#000" stroke-width="0.9" fill="none" />
<circle cx="348.1" cy="566.3" r="1.1" fill="#000"/>
<line x1="533" y1="560.5" x2="533" y2="570.3" stroke="#000" stroke-width="1" />
<line x1="329.5" y1="572.7" x2="329.5" y2="609" stroke="#000" stroke-width="1.1" />
<line x1="337" y1="572.7" x2="337" y2="599.2" stroke="#555" stroke-width="1.1" />
<line x1="542.5" y1="572.7" x2="542.5" y2="599.2" stroke="#333" stroke-width="1.1" />
<line x1="549.8" y1="572.7" x2="549.8" y2="609" stroke="#000" stroke-width="1.1" />
<circle cx="332.4" cy="252" r="1.3" fill="#000"/>
<circle cx="547.5" cy="252" r="1.3" fill="#000"/>
<circle cx="332.4" cy="349.5" r="1.3" fill="#000"/>
<circle cx="547.5" cy="349.5" r="1.3" fill="#000"/>
<circle cx="332.4" cy="447.5" r="1.3" fill="#000"/>
<circle cx="547.5" cy="447.5" r="1.3" fill="#000"/>
<circle cx="332.4" cy="545.6" r="1.3" fill="#000"/>
<circle cx="547.5" cy="545.6" r="1.3" fill="#000"/>
<circle cx="532.19" cy="147" r="1.3" fill="#000"/>
<circle cx="439.7" cy="93.6" r="1.3" fill="#000"/>
<circle cx="347.21" cy="147" r="1.3" fill="#000"/>
<rect x="344.3" y="199.3" width="5.7" height="20.2" stroke="#888" stroke-width="0.9" fill="none" rx="1"/>
<line x1="344.3" y1="207.78" x2="350" y2="207.78" stroke="#777" stroke-width="0.8" />
<rect x="344.3" y="376" width="5.7" height="19.5" stroke="#888" stroke-width="0.9" fill="none" rx="1"/>
<line x1="344.3" y1="384.19" x2="350" y2="384.19" stroke="#777" stroke-width="0.8" />
<rect x="344.3" y="528" width="5.7" height="20.5" stroke="#888" stroke-width="0.9" fill="none" rx="1"/>
<line x1="344.3" y1="536.61" x2="350" y2="536.61" stroke="#777" stroke-width="0.8" />
<path d="M377.2,413.4 L377.2,200.7 A62.7,62.7 0 0 1 502.6,200.7 L502.6,413.4 Z" stroke="#000" stroke-width="1.1" fill="none" />
<path d="M383.6,406.6 L383.6,200.7 A56.6,56.6 0 0 1 496.6,200.7 L496.6,406.6" stroke="#444" stroke-width="1" fill="none" />
<line x1="383.6" y1="406.6" x2="496.6" y2="406.6" stroke="#444" stroke-width="1" />
<line x1="383.6" y1="407.8" x2="496.6" y2="407.8" stroke="#aaa" stroke-width="0.8" />
<rect x="375.3" y="204" width="3.7" height="11" stroke="#777" stroke-width="0.8" fill="none" />
<line x1="375.3" y1="209.5" x2="379" y2="209.5" stroke="#444" stroke-width="0.9" />
<rect x="375.3" y="296" width="3.7" height="12" stroke="#777" stroke-width="0.8" fill="none" />
<line x1="375.3" y1="302" x2="379" y2="302" stroke="#444" stroke-width="0.9" />
<rect x="375.3" y="378" width="3.7" height="11.5" stroke="#777" stroke-width="0.8" fill="none" />
<line x1="375.3" y1="383.75" x2="379" y2="383.75" stroke="#444" stroke-width="0.9" />
<g transform="translate(-0.25,0)">
<line x1="397.1" y1="229" x2="397.1" y2="351" stroke="#000" stroke-width="4" />
<line x1="397.1" y1="229" x2="397.1" y2="351" stroke="#fff" stroke-width="2" />
<line x1="418.55" y1="215" x2="418.55" y2="372" stroke="#000" stroke-width="4" />
<line x1="418.55" y1="215" x2="418.55" y2="372" stroke="#fff" stroke-width="2" />
<line x1="440" y1="231" x2="440" y2="359" stroke="#000" stroke-width="4" />
<line x1="440" y1="231" x2="440" y2="359" stroke="#fff" stroke-width="2" />
<line x1="461.45" y1="215" x2="461.45" y2="372" stroke="#000" stroke-width="4" />
<line x1="461.45" y1="215" x2="461.45" y2="372" stroke="#fff" stroke-width="2" />
<line x1="482.9" y1="229" x2="482.9" y2="351" stroke="#000" stroke-width="4" />
<line x1="482.9" y1="229" x2="482.9" y2="351" stroke="#fff" stroke-width="2" />
<path d="M434.3,156.4 C434.85,155.83 436.82,154.32 437.6,153 C438.38,151.68 438.9,150.08 439,148.5 C439.1,146.92 438.95,144.82 438.2,143.5 C437.45,142.18 435.95,141.12 434.5,140.6 C433.05,140.08 431.25,140.03 429.5,140.4 C427.75,140.77 425.53,141.45 424,142.8 C422.47,144.15 421.08,146.3 420.3,148.5 C419.52,150.7 419.15,153.33 419.3,156 C419.45,158.67 419.92,161.95 421.2,164.5 C422.48,167.05 424.95,169.67 427,171.3 C429.05,172.93 431.33,173.7 433.5,174.3 C435.67,174.9 437.83,174.9 440,174.9 C442.17,174.9 444.33,174.9 446.5,174.3 C448.67,173.7 450.95,172.93 453,171.3 C455.05,169.67 457.52,167.05 458.8,164.5 C460.08,161.95 460.55,158.67 460.7,156 C460.85,153.33 460.48,150.7 459.7,148.5 C458.92,146.3 457.53,144.15 456,142.8 C454.47,141.45 452.25,140.77 450.5,140.4 C448.75,140.03 446.95,140.08 445.5,140.6 C444.05,141.12 442.55,142.18 441.8,143.5 C441.05,144.82 440.9,146.92 441,148.5 C441.1,150.08 441.62,151.68 442.4,153 C443.18,154.32 445.15,155.83 445.7,156.4" stroke="#000" stroke-width="3.8" fill="none" stroke-linecap="butt"/>
<path d="M434.3,156.4 C434.85,155.83 436.82,154.32 437.6,153 C438.38,151.68 438.9,150.08 439,148.5 C439.1,146.92 438.95,144.82 438.2,143.5 C437.45,142.18 435.95,141.12 434.5,140.6 C433.05,140.08 431.25,140.03 429.5,140.4 C427.75,140.77 425.53,141.45 424,142.8 C422.47,144.15 421.08,146.3 420.3,148.5 C419.52,150.7 419.15,153.33 419.3,156 C419.45,158.67 419.92,161.95 421.2,164.5 C422.48,167.05 424.95,169.67 427,171.3 C429.05,172.93 431.33,173.7 433.5,174.3 C435.67,174.9 437.83,174.9 440,174.9 C442.17,174.9 444.33,174.9 446.5,174.3 C448.67,173.7 450.95,172.93 453,171.3 C455.05,169.67 457.52,167.05 458.8,164.5 C460.08,161.95 460.55,158.67 460.7,156 C460.85,153.33 460.48,150.7 459.7,148.5 C458.92,146.3 457.53,144.15 456,142.8 C454.47,141.45 452.25,140.77 450.5,140.4 C448.75,140.03 446.95,140.08 445.5,140.6 C444.05,141.12 442.55,142.18 441.8,143.5 C441.05,144.82 440.9,146.92 441,148.5 C441.1,150.08 441.62,151.68 442.4,153 C443.18,154.32 445.15,155.83 445.7,156.4" stroke="#fff" stroke-width="1.55" fill="none" stroke-linecap="butt"/>
<path d="M434.3,216.7 C434.85,217.27 436.82,218.78 437.6,220.1 C438.38,221.42 438.9,223.02 439,224.6 C439.1,226.18 438.95,228.28 438.2,229.6 C437.45,230.92 435.95,231.98 434.5,232.5 C433.05,233.02 431.25,233.07 429.5,232.7 C427.75,232.33 425.53,231.65 424,230.3 C422.47,228.95 421.08,226.8 420.3,224.6 C419.52,222.4 419.15,219.77 419.3,217.1 C419.45,214.43 419.92,211.15 421.2,208.6 C422.48,206.05 424.95,203.43 427,201.8 C429.05,200.17 431.33,199.4 433.5,198.8 C435.67,198.2 437.83,198.2 440,198.2 C442.17,198.2 444.33,198.2 446.5,198.8 C448.67,199.4 450.95,200.17 453,201.8 C455.05,203.43 457.52,206.05 458.8,208.6 C460.08,211.15 460.55,214.43 460.7,217.1 C460.85,219.77 460.48,222.4 459.7,224.6 C458.92,226.8 457.53,228.95 456,230.3 C454.47,231.65 452.25,232.33 450.5,232.7 C448.75,233.07 446.95,233.02 445.5,232.5 C444.05,231.98 442.55,230.92 441.8,229.6 C441.05,228.28 440.9,226.18 441,224.6 C441.1,223.02 441.62,221.42 442.4,220.1 C443.18,218.78 445.15,217.27 445.7,216.7" stroke="#000" stroke-width="3.8" fill="none" stroke-linecap="butt"/>
<path d="M434.3,216.7 C434.85,217.27 436.82,218.78 437.6,220.1 C438.38,221.42 438.9,223.02 439,224.6 C439.1,226.18 438.95,228.28 438.2,229.6 C437.45,230.92 435.95,231.98 434.5,232.5 C433.05,233.02 431.25,233.07 429.5,232.7 C427.75,232.33 425.53,231.65 424,230.3 C422.47,228.95 421.08,226.8 420.3,224.6 C419.52,222.4 419.15,219.77 419.3,217.1 C419.45,214.43 419.92,211.15 421.2,208.6 C422.48,206.05 424.95,203.43 427,201.8 C429.05,200.17 431.33,199.4 433.5,198.8 C435.67,198.2 437.83,198.2 440,198.2 C442.17,198.2 444.33,198.2 446.5,198.8 C448.67,199.4 450.95,200.17 453,201.8 C455.05,203.43 457.52,206.05 458.8,208.6 C460.08,211.15 460.55,214.43 460.7,217.1 C460.85,219.77 460.48,222.4 459.7,224.6 C458.92,226.8 457.53,228.95 456,230.3 C454.47,231.65 452.25,232.33 450.5,232.7 C448.75,233.07 446.95,233.02 445.5,232.5 C444.05,231.98 442.55,230.92 441.8,229.6 C441.05,228.28 440.9,226.18 441,224.6 C441.1,223.02 441.62,221.42 442.4,220.1 C443.18,218.78 445.15,217.27 445.7,216.7" stroke="#fff" stroke-width="1.55" fill="none" stroke-linecap="butt"/>
<path d="M393.2,181.3 C393.88,181.85 396.53,183.23 397.3,184.6 C398.07,185.97 398.28,188 397.8,189.5 C397.32,191 395.95,192.85 394.4,193.6 C392.85,194.35 390.32,194.63 388.5,194 C386.68,193.37 384.55,191.63 383.5,189.8 C382.45,187.97 381.9,185.3 382.2,183 C382.5,180.7 383.75,177.92 385.3,176 C386.85,174.08 389.12,172.48 391.5,171.5 C393.88,170.52 397.02,170.18 399.6,170.1 C402.18,170.02 404.72,170.02 407,171 C409.28,171.98 411.63,173.83 413.3,176 C414.97,178.17 416.22,181 417,184 C417.78,187 418.02,190.5 418,194 C417.98,197.5 417.7,201.42 416.9,205 C416.1,208.58 414.93,212.2 413.2,215.5 C411.47,218.8 409.03,222.42 406.5,224.8 C403.97,227.18 400.92,229.13 398,229.8 C395.08,230.47 391.63,229.8 389,228.8 C386.37,227.8 383.77,225.85 382.2,223.8 C380.63,221.75 379.75,218.88 379.6,216.5 C379.45,214.12 380.15,211.28 381.3,209.5 C382.45,207.72 384.63,206.33 386.5,205.8 C388.37,205.27 390.87,205.6 392.5,206.3 C394.13,207 395.68,208.55 396.3,210 C396.92,211.45 396.72,213.7 396.2,215 C395.68,216.3 394.32,217.23 393.2,217.8 C392.08,218.37 390.12,218.3 389.5,218.4" stroke="#000" stroke-width="3.8" fill="none" stroke-linecap="butt"/>
<path d="M393.2,181.3 C393.88,181.85 396.53,183.23 397.3,184.6 C398.07,185.97 398.28,188 397.8,189.5 C397.32,191 395.95,192.85 394.4,193.6 C392.85,194.35 390.32,194.63 388.5,194 C386.68,193.37 384.55,191.63 383.5,189.8 C382.45,187.97 381.9,185.3 382.2,183 C382.5,180.7 383.75,177.92 385.3,176 C386.85,174.08 389.12,172.48 391.5,171.5 C393.88,170.52 397.02,170.18 399.6,170.1 C402.18,170.02 404.72,170.02 407,171 C409.28,171.98 411.63,173.83 413.3,176 C414.97,178.17 416.22,181 417,184 C417.78,187 418.02,190.5 418,194 C417.98,197.5 417.7,201.42 416.9,205 C416.1,208.58 414.93,212.2 413.2,215.5 C411.47,218.8 409.03,222.42 406.5,224.8 C403.97,227.18 400.92,229.13 398,229.8 C395.08,230.47 391.63,229.8 389,228.8 C386.37,227.8 383.77,225.85 382.2,223.8 C380.63,221.75 379.75,218.88 379.6,216.5 C379.45,214.12 380.15,211.28 381.3,209.5 C382.45,207.72 384.63,206.33 386.5,205.8 C388.37,205.27 390.87,205.6 392.5,206.3 C394.13,207 395.68,208.55 396.3,210 C396.92,211.45 396.72,213.7 396.2,215 C395.68,216.3 394.32,217.23 393.2,217.8 C392.08,218.37 390.12,218.3 389.5,218.4" stroke="#fff" stroke-width="1.55" fill="none" stroke-linecap="butt"/>
<path d="M486.8,181.3 C486.12,181.85 483.47,183.23 482.7,184.6 C481.93,185.97 481.72,188 482.2,189.5 C482.68,191 484.05,192.85 485.6,193.6 C487.15,194.35 489.68,194.63 491.5,194 C493.32,193.37 495.45,191.63 496.5,189.8 C497.55,187.97 498.1,185.3 497.8,183 C497.5,180.7 496.25,177.92 494.7,176 C493.15,174.08 490.88,172.48 488.5,171.5 C486.12,170.52 482.98,170.18 480.4,170.1 C477.82,170.02 475.28,170.02 473,171 C470.72,171.98 468.37,173.83 466.7,176 C465.03,178.17 463.78,181 463,184 C462.22,187 461.98,190.5 462,194 C462.02,197.5 462.3,201.42 463.1,205 C463.9,208.58 465.07,212.2 466.8,215.5 C468.53,218.8 470.97,222.42 473.5,224.8 C476.03,227.18 479.08,229.13 482,229.8 C484.92,230.47 488.37,229.8 491,228.8 C493.63,227.8 496.23,225.85 497.8,223.8 C499.37,221.75 500.25,218.88 500.4,216.5 C500.55,214.12 499.85,211.28 498.7,209.5 C497.55,207.72 495.37,206.33 493.5,205.8 C491.63,205.27 489.13,205.6 487.5,206.3 C485.87,207 484.32,208.55 483.7,210 C483.08,211.45 483.28,213.7 483.8,215 C484.32,216.3 485.68,217.23 486.8,217.8 C487.92,218.37 489.88,218.3 490.5,218.4" stroke="#000" stroke-width="3.8" fill="none" stroke-linecap="butt"/>
<path d="M486.8,181.3 C486.12,181.85 483.47,183.23 482.7,184.6 C481.93,185.97 481.72,188 482.2,189.5 C482.68,191 484.05,192.85 485.6,193.6 C487.15,194.35 489.68,194.63 491.5,194 C493.32,193.37 495.45,191.63 496.5,189.8 C497.55,187.97 498.1,185.3 497.8,183 C497.5,180.7 496.25,177.92 494.7,176 C493.15,174.08 490.88,172.48 488.5,171.5 C486.12,170.52 482.98,170.18 480.4,170.1 C477.82,170.02 475.28,170.02 473,171 C470.72,171.98 468.37,173.83 466.7,176 C465.03,178.17 463.78,181 463,184 C462.22,187 461.98,190.5 462,194 C462.02,197.5 462.3,201.42 463.1,205 C463.9,208.58 465.07,212.2 466.8,215.5 C468.53,218.8 470.97,222.42 473.5,224.8 C476.03,227.18 479.08,229.13 482,229.8 C484.92,230.47 488.37,229.8 491,228.8 C493.63,227.8 496.23,225.85 497.8,223.8 C499.37,221.75 500.25,218.88 500.4,216.5 C500.55,214.12 499.85,211.28 498.7,209.5 C497.55,207.72 495.37,206.33 493.5,205.8 C491.63,205.27 489.13,205.6 487.5,206.3 C485.87,207 484.32,208.55 483.7,210 C483.08,211.45 483.28,213.7 483.8,215 C484.32,216.3 485.68,217.23 486.8,217.8 C487.92,218.37 489.88,218.3 490.5,218.4" stroke="#fff" stroke-width="1.55" fill="none" stroke-linecap="butt"/>
<path d="M399.6,170.1 C399.35,169.17 398.23,166.43 398.1,164.5 C397.97,162.57 398.15,160.32 398.8,158.5 C399.45,156.68 400.63,154.87 402,153.6 C403.37,152.33 405.28,151.25 407,150.9 C408.72,150.55 410.87,150.77 412.3,151.5 C413.73,152.23 415.17,153.83 415.6,155.3 C416.03,156.77 415.67,159.08 414.9,160.3 C414.13,161.52 412.32,162.48 411,162.6 C409.68,162.72 407.67,161.27 407,161" stroke="#000" stroke-width="3.8" fill="none" stroke-linecap="butt"/>
<path d="M399.6,170.1 C399.35,169.17 398.23,166.43 398.1,164.5 C397.97,162.57 398.15,160.32 398.8,158.5 C399.45,156.68 400.63,154.87 402,153.6 C403.37,152.33 405.28,151.25 407,150.9 C408.72,150.55 410.87,150.77 412.3,151.5 C413.73,152.23 415.17,153.83 415.6,155.3 C416.03,156.77 415.67,159.08 414.9,160.3 C414.13,161.52 412.32,162.48 411,162.6 C409.68,162.72 407.67,161.27 407,161" stroke="#fff" stroke-width="1.55" fill="none" stroke-linecap="butt"/>
<path d="M480.4,170.1 C480.65,169.17 481.77,166.43 481.9,164.5 C482.03,162.57 481.85,160.32 481.2,158.5 C480.55,156.68 479.37,154.87 478,153.6 C476.63,152.33 474.72,151.25 473,150.9 C471.28,150.55 469.13,150.77 467.7,151.5 C466.27,152.23 464.83,153.83 464.4,155.3 C463.97,156.77 464.33,159.08 465.1,160.3 C465.87,161.52 467.68,162.48 469,162.6 C470.32,162.72 472.33,161.27 473,161" stroke="#000" stroke-width="3.8" fill="none" stroke-linecap="butt"/>
<path d="M480.4,170.1 C480.65,169.17 481.77,166.43 481.9,164.5 C482.03,162.57 481.85,160.32 481.2,158.5 C480.55,156.68 479.37,154.87 478,153.6 C476.63,152.33 474.72,151.25 473,150.9 C471.28,150.55 469.13,150.77 467.7,151.5 C466.27,152.23 464.83,153.83 464.4,155.3 C463.97,156.77 464.33,159.08 465.1,160.3 C465.87,161.52 467.68,162.48 469,162.6 C470.32,162.72 472.33,161.27 473,161" stroke="#fff" stroke-width="1.55" fill="none" stroke-linecap="butt"/>
<path d="M434.3,373.4 C434.85,372.83 436.82,371.32 437.6,370 C438.38,368.68 438.9,367.08 439,365.5 C439.1,363.92 438.95,361.82 438.2,360.5 C437.45,359.18 435.95,358.12 434.5,357.6 C433.05,357.08 431.25,357.03 429.5,357.4 C427.75,357.77 425.53,358.45 424,359.8 C422.47,361.15 421.08,363.3 420.3,365.5 C419.52,367.7 419.15,370.33 419.3,373 C419.45,375.67 419.92,378.95 421.2,381.5 C422.48,384.05 424.95,386.67 427,388.3 C429.05,389.93 431.33,390.7 433.5,391.3 C435.67,391.9 437.83,391.9 440,391.9 C442.17,391.9 444.33,391.9 446.5,391.3 C448.67,390.7 450.95,389.93 453,388.3 C455.05,386.67 457.52,384.05 458.8,381.5 C460.08,378.95 460.55,375.67 460.7,373 C460.85,370.33 460.48,367.7 459.7,365.5 C458.92,363.3 457.53,361.15 456,359.8 C454.47,358.45 452.25,357.77 450.5,357.4 C448.75,357.03 446.95,357.08 445.5,357.6 C444.05,358.12 442.55,359.18 441.8,360.5 C441.05,361.82 440.9,363.92 441,365.5 C441.1,367.08 441.62,368.68 442.4,370 C443.18,371.32 445.15,372.83 445.7,373.4" stroke="#000" stroke-width="3.8" fill="none" stroke-linecap="butt"/>
<path d="M434.3,373.4 C434.85,372.83 436.82,371.32 437.6,370 C438.38,368.68 438.9,367.08 439,365.5 C439.1,363.92 438.95,361.82 438.2,360.5 C437.45,359.18 435.95,358.12 434.5,357.6 C433.05,357.08 431.25,357.03 429.5,357.4 C427.75,357.77 425.53,358.45 424,359.8 C422.47,361.15 421.08,363.3 420.3,365.5 C419.52,367.7 419.15,370.33 419.3,373 C419.45,375.67 419.92,378.95 421.2,381.5 C422.48,384.05 424.95,386.67 427,388.3 C429.05,389.93 431.33,390.7 433.5,391.3 C435.67,391.9 437.83,391.9 440,391.9 C442.17,391.9 444.33,391.9 446.5,391.3 C448.67,390.7 450.95,389.93 453,388.3 C455.05,386.67 457.52,384.05 458.8,381.5 C460.08,378.95 460.55,375.67 460.7,373 C460.85,370.33 460.48,367.7 459.7,365.5 C458.92,363.3 457.53,361.15 456,359.8 C454.47,358.45 452.25,357.77 450.5,357.4 C448.75,357.03 446.95,357.08 445.5,357.6 C444.05,358.12 442.55,359.18 441.8,360.5 C441.05,361.82 440.9,363.92 441,365.5 C441.1,367.08 441.62,368.68 442.4,370 C443.18,371.32 445.15,372.83 445.7,373.4" stroke="#fff" stroke-width="1.55" fill="none" stroke-linecap="butt"/>
<path d="M393.2,362.3 C393.88,362.85 396.53,364.23 397.3,365.6 C398.07,366.97 398.28,369 397.8,370.5 C397.32,372 395.95,373.85 394.4,374.6 C392.85,375.35 390.32,375.63 388.5,375 C386.68,374.37 384.55,372.63 383.5,370.8 C382.45,368.97 381.9,366.3 382.2,364 C382.5,361.7 383.75,358.92 385.3,357 C386.85,355.08 389.12,353.48 391.5,352.5 C393.88,351.52 397.02,351.18 399.6,351.1 C402.18,351.02 404.72,351.02 407,352 C409.28,352.98 411.63,354.83 413.3,357 C414.97,359.17 416.22,362 417,365 C417.78,368 418.02,371.5 418,375 C417.98,378.5 417.7,382.42 416.9,386 C416.1,389.58 414.93,393.2 413.2,396.5 C411.47,399.8 409.03,403.42 406.5,405.8 C403.97,408.18 400.92,410.13 398,410.8 C395.08,411.47 391.63,410.8 389,409.8 C386.37,408.8 383.77,406.85 382.2,404.8 C380.63,402.75 379.75,399.88 379.6,397.5 C379.45,395.12 380.15,392.28 381.3,390.5 C382.45,388.72 384.63,387.33 386.5,386.8 C388.37,386.27 390.87,386.6 392.5,387.3 C394.13,388 395.68,389.55 396.3,391 C396.92,392.45 396.72,394.7 396.2,396 C395.68,397.3 394.32,398.23 393.2,398.8 C392.08,399.37 390.12,399.3 389.5,399.4" stroke="#000" stroke-width="3.8" fill="none" stroke-linecap="butt"/>
<path d="M393.2,362.3 C393.88,362.85 396.53,364.23 397.3,365.6 C398.07,366.97 398.28,369 397.8,370.5 C397.32,372 395.95,373.85 394.4,374.6 C392.85,375.35 390.32,375.63 388.5,375 C386.68,374.37 384.55,372.63 383.5,370.8 C382.45,368.97 381.9,366.3 382.2,364 C382.5,361.7 383.75,358.92 385.3,357 C386.85,355.08 389.12,353.48 391.5,352.5 C393.88,351.52 397.02,351.18 399.6,351.1 C402.18,351.02 404.72,351.02 407,352 C409.28,352.98 411.63,354.83 413.3,357 C414.97,359.17 416.22,362 417,365 C417.78,368 418.02,371.5 418,375 C417.98,378.5 417.7,382.42 416.9,386 C416.1,389.58 414.93,393.2 413.2,396.5 C411.47,399.8 409.03,403.42 406.5,405.8 C403.97,408.18 400.92,410.13 398,410.8 C395.08,411.47 391.63,410.8 389,409.8 C386.37,408.8 383.77,406.85 382.2,404.8 C380.63,402.75 379.75,399.88 379.6,397.5 C379.45,395.12 380.15,392.28 381.3,390.5 C382.45,388.72 384.63,387.33 386.5,386.8 C388.37,386.27 390.87,386.6 392.5,387.3 C394.13,388 395.68,389.55 396.3,391 C396.92,392.45 396.72,394.7 396.2,396 C395.68,397.3 394.32,398.23 393.2,398.8 C392.08,399.37 390.12,399.3 389.5,399.4" stroke="#fff" stroke-width="1.55" fill="none" stroke-linecap="butt"/>
<path d="M486.8,362.3 C486.12,362.85 483.47,364.23 482.7,365.6 C481.93,366.97 481.72,369 482.2,370.5 C482.68,372 484.05,373.85 485.6,374.6 C487.15,375.35 489.68,375.63 491.5,375 C493.32,374.37 495.45,372.63 496.5,370.8 C497.55,368.97 498.1,366.3 497.8,364 C497.5,361.7 496.25,358.92 494.7,357 C493.15,355.08 490.88,353.48 488.5,352.5 C486.12,351.52 482.98,351.18 480.4,351.1 C477.82,351.02 475.28,351.02 473,352 C470.72,352.98 468.37,354.83 466.7,357 C465.03,359.17 463.78,362 463,365 C462.22,368 461.98,371.5 462,375 C462.02,378.5 462.3,382.42 463.1,386 C463.9,389.58 465.07,393.2 466.8,396.5 C468.53,399.8 470.97,403.42 473.5,405.8 C476.03,408.18 479.08,410.13 482,410.8 C484.92,411.47 488.37,410.8 491,409.8 C493.63,408.8 496.23,406.85 497.8,404.8 C499.37,402.75 500.25,399.88 500.4,397.5 C500.55,395.12 499.85,392.28 498.7,390.5 C497.55,388.72 495.37,387.33 493.5,386.8 C491.63,386.27 489.13,386.6 487.5,387.3 C485.87,388 484.32,389.55 483.7,391 C483.08,392.45 483.28,394.7 483.8,396 C484.32,397.3 485.68,398.23 486.8,398.8 C487.92,399.37 489.88,399.3 490.5,399.4" stroke="#000" stroke-width="3.8" fill="none" stroke-linecap="butt"/>
<path d="M486.8,362.3 C486.12,362.85 483.47,364.23 482.7,365.6 C481.93,366.97 481.72,369 482.2,370.5 C482.68,372 484.05,373.85 485.6,374.6 C487.15,375.35 489.68,375.63 491.5,375 C493.32,374.37 495.45,372.63 496.5,370.8 C497.55,368.97 498.1,366.3 497.8,364 C497.5,361.7 496.25,358.92 494.7,357 C493.15,355.08 490.88,353.48 488.5,352.5 C486.12,351.52 482.98,351.18 480.4,351.1 C477.82,351.02 475.28,351.02 473,352 C470.72,352.98 468.37,354.83 466.7,357 C465.03,359.17 463.78,362 463,365 C462.22,368 461.98,371.5 462,375 C462.02,378.5 462.3,382.42 463.1,386 C463.9,389.58 465.07,393.2 466.8,396.5 C468.53,399.8 470.97,403.42 473.5,405.8 C476.03,408.18 479.08,410.13 482,410.8 C484.92,411.47 488.37,410.8 491,409.8 C493.63,408.8 496.23,406.85 497.8,404.8 C499.37,402.75 500.25,399.88 500.4,397.5 C500.55,395.12 499.85,392.28 498.7,390.5 C497.55,388.72 495.37,387.33 493.5,386.8 C491.63,386.27 489.13,386.6 487.5,387.3 C485.87,388 484.32,389.55 483.7,391 C483.08,392.45 483.28,394.7 483.8,396 C484.32,397.3 485.68,398.23 486.8,398.8 C487.92,399.37 489.88,399.3 490.5,399.4" stroke="#fff" stroke-width="1.55" fill="none" stroke-linecap="butt"/>
<path d="M419,403.5 C419.38,402.95 420.25,400.82 421.3,400.2 C422.35,399.58 424.2,399.28 425.3,399.8 C426.4,400.32 427.52,401.88 427.9,403.3 C428.28,404.72 428.37,406.88 427.6,408.3 C426.83,409.72 424.97,411.23 423.3,411.8 C421.63,412.37 419.25,412.22 417.6,411.7 C415.95,411.18 414.53,409.9 413.4,408.7 C412.27,407.5 411.23,405.2 410.8,404.5" stroke="#000" stroke-width="3.8" fill="none" stroke-linecap="butt"/>
<path d="M419,403.5 C419.38,402.95 420.25,400.82 421.3,400.2 C422.35,399.58 424.2,399.28 425.3,399.8 C426.4,400.32 427.52,401.88 427.9,403.3 C428.28,404.72 428.37,406.88 427.6,408.3 C426.83,409.72 424.97,411.23 423.3,411.8 C421.63,412.37 419.25,412.22 417.6,411.7 C415.95,411.18 414.53,409.9 413.4,408.7 C412.27,407.5 411.23,405.2 410.8,404.5" stroke="#fff" stroke-width="1.55" fill="none" stroke-linecap="butt"/>
<path d="M461,403.5 C460.62,402.95 459.75,400.82 458.7,400.2 C457.65,399.58 455.8,399.28 454.7,399.8 C453.6,400.32 452.48,401.88 452.1,403.3 C451.72,404.72 451.63,406.88 452.4,408.3 C453.17,409.72 455.03,411.23 456.7,411.8 C458.37,412.37 460.75,412.22 462.4,411.7 C464.05,411.18 465.47,409.9 466.6,408.7 C467.73,407.5 468.77,405.2 469.2,404.5" stroke="#000" stroke-width="3.8" fill="none" stroke-linecap="butt"/>
<path d="M461,403.5 C460.62,402.95 459.75,400.82 458.7,400.2 C457.65,399.58 455.8,399.28 454.7,399.8 C453.6,400.32 452.48,401.88 452.1,403.3 C451.72,404.72 451.63,406.88 452.4,408.3 C453.17,409.72 455.03,411.23 456.7,411.8 C458.37,412.37 460.75,412.22 462.4,411.7 C464.05,411.18 465.47,409.9 466.6,408.7 C467.73,407.5 468.77,405.2 469.2,404.5" stroke="#fff" stroke-width="1.55" fill="none" stroke-linecap="butt"/>
<circle cx="440" cy="186.5" r="7.8" stroke="#000" stroke-width="3.8" fill="none"/>
<circle cx="440" cy="186.5" r="7.8" stroke="#fff" stroke-width="1.5" fill="none"/>
<circle cx="440" cy="403.7" r="8" stroke="#000" stroke-width="3.8" fill="none"/>
<circle cx="440" cy="403.7" r="8" stroke="#fff" stroke-width="1.5" fill="none"/>
<path d="M414.95,284.4 L422.15,284.4 L422.15,287 L423.65,288 L422.15,289.6 L422.15,292.8 L414.95,292.8 L414.95,289.6 L413.45,288 L414.95,287 Z" stroke="#000" stroke-width="0" fill="#000" />
<line x1="415.95" y1="290.5" x2="421.15" y2="290.5" stroke="#ddd" stroke-width="0.8" />
<rect x="417.65" y="285.7" width="1.8" height="1.8" fill="#777"/>
<path d="M414.95,321.6 L422.15,321.6 L422.15,324.2 L423.65,325.2 L422.15,326.8 L422.15,330 L414.95,330 L414.95,326.8 L413.45,325.2 L414.95,324.2 Z" stroke="#000" stroke-width="0" fill="#000" />
<line x1="415.95" y1="327.7" x2="421.15" y2="327.7" stroke="#ddd" stroke-width="0.8" />
<rect x="417.65" y="322.9" width="1.8" height="1.8" fill="#777"/>
<path d="M457.85,284.4 L465.05,284.4 L465.05,287 L466.55,288 L465.05,289.6 L465.05,292.8 L457.85,292.8 L457.85,289.6 L456.35,288 L457.85,287 Z" stroke="#000" stroke-width="0" fill="#000" />
<line x1="458.85" y1="290.5" x2="464.05" y2="290.5" stroke="#ddd" stroke-width="0.8" />
<rect x="460.55" y="285.7" width="1.8" height="1.8" fill="#777"/>
<path d="M457.85,321.6 L465.05,321.6 L465.05,324.2 L466.55,325.2 L465.05,326.8 L465.05,330 L457.85,330 L457.85,326.8 L456.35,325.2 L457.85,324.2 Z" stroke="#000" stroke-width="0" fill="#000" />
<line x1="458.85" y1="327.7" x2="464.05" y2="327.7" stroke="#ddd" stroke-width="0.8" />
<rect x="460.55" y="322.9" width="1.8" height="1.8" fill="#777"/>
<path d="M436.4,269.3 L443.6,269.3 L443.6,271.9 L445.1,272.9 L443.6,274.5 L443.6,277.7 L436.4,277.7 L436.4,274.5 L434.9,272.9 L436.4,271.9 Z" stroke="#000" stroke-width="0" fill="#000" />
<line x1="437.4" y1="275.4" x2="442.6" y2="275.4" stroke="#ddd" stroke-width="0.8" />
<rect x="439.1" y="270.6" width="1.8" height="1.8" fill="#777"/>
<path d="M436.4,336.6 L443.6,336.6 L443.6,339.2 L445.1,340.2 L443.6,341.8 L443.6,345 L436.4,345 L436.4,341.8 L434.9,340.2 L436.4,339.2 Z" stroke="#000" stroke-width="0" fill="#000" />
<line x1="437.4" y1="342.7" x2="442.6" y2="342.7" stroke="#ddd" stroke-width="0.8" />
<rect x="439.1" y="337.9" width="1.8" height="1.8" fill="#777"/>
</g>
<rect x="377.2" y="443.1" width="125.3" height="88" stroke="#333" stroke-width="1.2" fill="none" />
<rect x="380.2" y="446" width="119.4" height="82.2" stroke="#000" stroke-width="1.1" fill="none" />
<line x1="400" y1="446" x2="400" y2="528.2" stroke="#000" stroke-width="1" />
<line x1="419.8" y1="446" x2="419.8" y2="528.2" stroke="#000" stroke-width="1" />
<line x1="439.9" y1="446" x2="439.9" y2="528.2" stroke="#000" stroke-width="1" />
<line x1="459.7" y1="446" x2="459.7" y2="528.2" stroke="#000" stroke-width="1" />
<line x1="479.5" y1="446" x2="479.5" y2="528.2" stroke="#000" stroke-width="1" />
<circle cx="390.3" cy="457.3" r="3.4" stroke="#000" stroke-width="1" fill="none"/>
<circle cx="390.3" cy="516.4" r="3.4" stroke="#000" stroke-width="1" fill="none"/>
<circle cx="410.1" cy="457.3" r="3.4" stroke="#000" stroke-width="1" fill="none"/>
<circle cx="410.1" cy="516.4" r="3.4" stroke="#000" stroke-width="1" fill="none"/>
<circle cx="430" cy="457.3" r="3.4" stroke="#000" stroke-width="1" fill="none"/>
<circle cx="430" cy="516.4" r="3.4" stroke="#000" stroke-width="1" fill="none"/>
<circle cx="449.8" cy="457.3" r="3.4" stroke="#000" stroke-width="1" fill="none"/>
<circle cx="449.8" cy="516.4" r="3.4" stroke="#000" stroke-width="1" fill="none"/>
<circle cx="469.6" cy="457.3" r="3.4" stroke="#000" stroke-width="1" fill="none"/>
<circle cx="469.6" cy="516.4" r="3.4" stroke="#000" stroke-width="1" fill="none"/>
<circle cx="489.5" cy="457.3" r="3.4" stroke="#000" stroke-width="1" fill="none"/>
<circle cx="489.5" cy="516.4" r="3.4" stroke="#000" stroke-width="1" fill="none"/>
<line x1="507" y1="442.5" x2="522.8" y2="442.5" stroke="#000" stroke-width="0.9" />
<line x1="507" y1="531" x2="522.8" y2="531" stroke="#000" stroke-width="0.9" />
<line x1="517.9" y1="443" x2="517.9" y2="478" stroke="#000" stroke-width="0.9" />
<line x1="517.9" y1="501" x2="517.9" y2="530.5" stroke="#000" stroke-width="0.9" />
<polygon points="517.9,443 516.4,449 519.4,449" fill="#000"/>
<polygon points="517.9,530.8 516.4,524.8 519.4,524.8" fill="#000"/>
<text x="522.5" y="489.8" font-family='"Liberation Sans", sans-serif' font-size="16.5" fill="#000" text-anchor="middle" transform="rotate(-90 522.5 489.8)" >18"</text>
<rect x="511.2" y="334.8" width="12.2" height="83.4" stroke="#000" stroke-width="0.9" fill="none" />
<rect x="515.2" y="337.4" width="4.6" height="77" stroke="#000" stroke-width="0.9" fill="none" rx="2.3"/>
<line x1="515.3" y1="363" x2="519.7" y2="360" stroke="#000" stroke-width="0.8" />
<line x1="515.3" y1="368" x2="519.7" y2="365" stroke="#000" stroke-width="0.8" />
<line x1="515.3" y1="373" x2="519.7" y2="370" stroke="#000" stroke-width="0.8" />
<line x1="515.3" y1="378" x2="519.7" y2="375" stroke="#000" stroke-width="0.8" />
<line x1="515.3" y1="383" x2="519.7" y2="380" stroke="#000" stroke-width="0.8" />
<line x1="515.3" y1="388" x2="519.7" y2="385" stroke="#000" stroke-width="0.8" />
<line x1="515.5" y1="409" x2="519.5" y2="409" stroke="#000" stroke-width="0.8" />
<circle cx="518.5" cy="315.1" r="5.4" stroke="#000" stroke-width="1" fill="none"/>
<line x1="518.5" y1="280.5" x2="518.5" y2="309.7" stroke="#000" stroke-width="0.9" />
<line x1="499" y1="285.5" x2="512.5" y2="285.5" stroke="#000" stroke-width="0.9" />
<polygon points="518.2,285.5 512.2,284 512.2,287" fill="#000"/>
<line x1="538" y1="285.5" x2="552" y2="285.5" stroke="#000" stroke-width="0.9" />
<polygon points="532.7,285.5 538.7,284 538.7,287" fill="#000"/>
<rect x="527.3" y="275.5" width="2" height="9" stroke="#888" stroke-width="0.6" fill="#ddd" />
<text x="558.2" y="283.5" font-family='"Liberation Sans", sans-serif' font-size="17.5" fill="#000" textLength="15.6" lengthAdjust="spacingAndGlyphs" >2-</text>
<text x="573.6" y="275.9" font-family='"Liberation Sans", sans-serif' font-size="12" fill="#000" textLength="6.6" lengthAdjust="spacingAndGlyphs" >3</text>
<line x1="573.9" y1="276.7" x2="580.9" y2="276.7" stroke="#000" stroke-width="0.8" />
<text x="573.4" y="287.4" font-family='"Liberation Sans", sans-serif' font-size="12" fill="#000" textLength="6.8" lengthAdjust="spacingAndGlyphs" >4</text>
<text x="580.6" y="281" font-family='"Liberation Sans", sans-serif' font-size="13.5" fill="#000" font-weight="bold" >"</text>
<text x="551.3" y="303.6" font-family='"Liberation Sans", sans-serif' font-size="16.6" fill="#000" textLength="43" lengthAdjust="spacingAndGlyphs" >bckst.</text>
<line x1="524" y1="315.3" x2="598" y2="315.3" stroke="#000" stroke-width="0.9" />
<line x1="528" y1="334.9" x2="574.4" y2="334.9" stroke="#000" stroke-width="0.9" />
<line x1="440" y1="90.4" x2="681" y2="90.4" stroke="#000" stroke-width="1" />
<line x1="440" y1="97.8" x2="652.5" y2="97.8" stroke="#000" stroke-width="1" />
<line x1="544.5" y1="200.2" x2="618.7" y2="200.2" stroke="#000" stroke-width="1" />
<line x1="550.2" y1="570.2" x2="680.5" y2="570.2" stroke="#000" stroke-width="1.1" />
<line x1="612.8" y1="98" x2="612.8" y2="135.5" stroke="#000" stroke-width="0.9" />
<line x1="612.8" y1="162" x2="612.8" y2="199.5" stroke="#000" stroke-width="0.9" />
<polygon points="612.8,98 611.2,104 614.4,104" fill="#000"/>
<polygon points="612.8,199.6 611.2,193.6 614.4,193.6" fill="#000"/>
<text x="620.2" y="149.5" font-family='"Liberation Sans", sans-serif' font-size="17.5" fill="#000" text-anchor="middle" transform="rotate(-90 620.2 149.5)" >21"</text>
<line x1="612.8" y1="200.8" x2="612.8" y2="318" stroke="#000" stroke-width="0.9" />
<line x1="612.8" y1="365" x2="612.8" y2="569.5" stroke="#000" stroke-width="0.9" />
<polygon points="612.8,200.8 611.2,206.8 614.4,206.8" fill="#000"/>
<polygon points="612.8,569.8 611.2,563.8 614.4,563.8" fill="#000"/>
<line x1="647.5" y1="98" x2="647.5" y2="318" stroke="#000" stroke-width="0.9" />
<line x1="647.5" y1="362" x2="647.5" y2="569.5" stroke="#000" stroke-width="0.9" />
<polygon points="647.5,98 645.9,104 649.1,104" fill="#000"/>
<polygon points="647.5,569.8 645.9,563.8 649.1,563.8" fill="#000"/>
<line x1="675.6" y1="91" x2="675.6" y2="274.5" stroke="#000" stroke-width="0.9" />
<line x1="675.6" y1="386" x2="675.6" y2="569.5" stroke="#000" stroke-width="0.9" />
<polygon points="675.6,91 674,97 677.2,97" fill="#000"/>
<polygon points="675.6,569.8 674,563.8 677.2,563.8" fill="#000"/>
<text x="681.8" y="330" font-family='"Liberation Sans", sans-serif' font-size="16" fill="#000" text-anchor="middle" textLength="110" lengthAdjust="spacingAndGlyphs" transform="rotate(-90 681.8 330)" >Nailing Fin 98"</text>
<line x1="568.8" y1="335.5" x2="568.8" y2="413.5" stroke="#000" stroke-width="0.9" />
<line x1="568.8" y1="474.5" x2="568.8" y2="569.5" stroke="#000" stroke-width="0.9" />
<polygon points="568.8,335.3 567.2,341.3 570.4,341.3" fill="#000"/>
<polygon points="568.8,569.8 567.2,563.8 570.4,563.8" fill="#000"/>
<text x="574.2" y="444" font-family='"Liberation Sans", sans-serif' font-size="15.5" fill="#000" text-anchor="middle" textLength="58.7" lengthAdjust="spacingAndGlyphs" transform="rotate(-90 574.2 444)" >48" Pull</text>
<line x1="592.8" y1="316" x2="592.8" y2="415" stroke="#000" stroke-width="0.9" />
<line x1="592.8" y1="509.5" x2="592.8" y2="569.5" stroke="#000" stroke-width="0.9" />
<polygon points="592.8,315.8 591.2,321.8 594.4,321.8" fill="#000"/>
<polygon points="592.8,569.8 591.2,563.8 594.4,563.8" fill="#000"/>
<text x="598.7" y="462.3" font-family='"Liberation Sans", sans-serif' font-size="15.5" fill="#000" text-anchor="middle" textLength="92.5" lengthAdjust="spacingAndGlyphs" transform="rotate(-90 598.7 462.3)" >52"Deadbolt</text>
<g transform="translate(619,363.4) rotate(-90)">
<text x="0" y="0" font-family='"Liberation Sans", sans-serif' font-size="16.8" fill="#000" textLength="18.2" lengthAdjust="spacingAndGlyphs" >75</text>
<text x="17.6" y="-6.6" font-family='"Liberation Sans", sans-serif' font-size="15.5" fill="#000" >1</text>
<line x1="17.8" y1="4" x2="32.4" y2="-16.2" stroke="#000" stroke-width="1" />
<text x="26.6" y="6" font-family='"Liberation Sans", sans-serif' font-size="16.8" fill="#000" >2</text>
<text x="36.6" y="-7.8" font-family='"Liberation Sans", sans-serif' font-size="13" fill="#000" >"</text>
</g>
<g transform="translate(653.6,362) rotate(-90)">
<text x="0" y="0" font-family='"Liberation Sans", sans-serif' font-size="16.8" fill="#000" textLength="18.2" lengthAdjust="spacingAndGlyphs" >96</text>
<text x="17.6" y="-6.6" font-family='"Liberation Sans", sans-serif' font-size="15.5" fill="#000" >1</text>
<line x1="17.8" y1="4" x2="32.4" y2="-16.2" stroke="#000" stroke-width="1" />
<text x="26.6" y="6" font-family='"Liberation Sans", sans-serif' font-size="16.8" fill="#000" >2</text>
<text x="36.6" y="-7.8" font-family='"Liberation Sans", sans-serif' font-size="13" fill="#000" >"</text>
</g>
<rect x="228.3" y="194.2" width="68.1" height="27.3" stroke="#555" stroke-width="0.9" fill="none" />
<text x="230.5" y="205.6" font-family='"Liberation Sans", sans-serif' font-size="10.6" fill="#000" textLength="63.5" lengthAdjust="spacingAndGlyphs" >Hinge: Ø4"x1"</text>
<text x="230.5" y="217.6" font-family='"Liberation Sans", sans-serif' font-size="10.6" fill="#000" textLength="41" lengthAdjust="spacingAndGlyphs" >Door (3x)</text>
<line x1="296.4" y1="206.2" x2="346" y2="206.2" stroke="#333" stroke-width="0.8" />
<circle cx="345.5" cy="206.3" r="1.2" fill="#000"/>
<rect x="263.4" y="244" width="41.3" height="19" stroke="#555" stroke-width="0.9" fill="none" />
<text x="266.2" y="257.8" font-family='"Liberation Sans", sans-serif' font-size="10.6" fill="#000" textLength="24.5" lengthAdjust="spacingAndGlyphs" >Glass</text>
<text x="294.8" y="254.2" font-family='"Liberation Sans", sans-serif' font-size="7.7" fill="#000" >5</text>
<line x1="294.8" y1="255.2" x2="299.3" y2="255.2" stroke="#666" stroke-width="0.45" />
<text x="294.8" y="260.4" font-family='"Liberation Sans", sans-serif' font-size="7.7" fill="#000" >8</text>
<text x="299.4" y="254.8" font-family='"Liberation Sans", sans-serif' font-size="6.5" fill="#000" font-weight="bold" >"</text>
<line x1="304.7" y1="256.4" x2="388.5" y2="256.4" stroke="#333" stroke-width="0.8" />
<circle cx="388.8" cy="256.4" r="1.1" fill="#000"/>
<rect x="255.6" y="293.5" width="70" height="28.2" stroke="#555" stroke-width="0.9" fill="none" />
<text x="257.8" y="305.6" font-family='"Liberation Sans", sans-serif' font-size="10.6" fill="#000" textLength="41" lengthAdjust="spacingAndGlyphs" >Hinge: Ø</text>
<text x="298.2" y="299.8" font-family='"Liberation Sans", sans-serif' font-size="6.8" fill="#000" >5</text>
<line x1="298.2" y1="300.8" x2="302.3" y2="300.8" stroke="#666" stroke-width="0.45" />
<text x="298.2" y="307.3" font-family='"Liberation Sans", sans-serif' font-size="6.8" fill="#000" >8</text>
<text x="302.4" y="300.4" font-family='"Liberation Sans", sans-serif' font-size="6.5" fill="#000" font-weight="bold" >"</text>
<text x="304.6" y="305.6" font-family='"Liberation Sans", sans-serif' font-size="10.6" fill="#000" textLength="10.8" lengthAdjust="spacingAndGlyphs" >x2</text>
<text x="316.2" y="300" font-family='"Liberation Sans", sans-serif' font-size="6.8" fill="#000" >1</text>
<line x1="316.2" y1="301" x2="320.3" y2="301" stroke="#666" stroke-width="0.45" />
<text x="316.2" y="306.9" font-family='"Liberation Sans", sans-serif' font-size="6.8" fill="#000" >4</text>
<text x="320.4" y="300.6" font-family='"Liberation Sans", sans-serif' font-size="6.5" fill="#000" font-weight="bold" >"</text>
<text x="257.8" y="317.8" font-family='"Liberation Sans", sans-serif' font-size="10.6" fill="#000" textLength="47.5" lengthAdjust="spacingAndGlyphs" >Glass (3x)</text>
<line x1="325.6" y1="303.9" x2="376" y2="303.9" stroke="#333" stroke-width="0.8" />
<rect x="231" y="339.5" width="73.7" height="30.5" stroke="#555" stroke-width="0.9" fill="none" />
<text x="233.3" y="349.8" font-family='"Liberation Sans", sans-serif' font-size="10.6" fill="#000" textLength="69" lengthAdjust="spacingAndGlyphs" >Forging square</text>
<text x="233.7" y="359.3" font-family='"Liberation Sans", sans-serif' font-size="7.4" fill="#000" >5</text>
<line x1="233.7" y1="360.3" x2="238.1" y2="360.3" stroke="#666" stroke-width="0.45" />
<text x="233.7" y="366.7" font-family='"Liberation Sans", sans-serif' font-size="7.4" fill="#000" >8</text>
<text x="238.2" y="359.9" font-family='"Liberation Sans", sans-serif' font-size="6.5" fill="#000" font-weight="bold" >"</text>
<text x="241.4" y="364.7" font-family='"Liberation Sans", sans-serif' font-size="9.5" fill="#000" textLength="5" lengthAdjust="spacingAndGlyphs" >x</text>
<text x="247" y="359.3" font-family='"Liberation Sans", sans-serif' font-size="7.4" fill="#000" >5</text>
<line x1="247" y1="360.3" x2="251.4" y2="360.3" stroke="#666" stroke-width="0.45" />
<text x="247" y="366.7" font-family='"Liberation Sans", sans-serif' font-size="7.4" fill="#000" >8</text>
<text x="251.5" y="359.9" font-family='"Liberation Sans", sans-serif' font-size="6.5" fill="#000" font-weight="bold" >"</text>
<line x1="304.7" y1="351" x2="396" y2="351" stroke="#333" stroke-width="0.8" />
<rect x="247.4" y="400.4" width="57.3" height="12.5" stroke="#555" stroke-width="0.9" fill="none" />
<text x="249.5" y="410.6" font-family='"Liberation Sans", sans-serif' font-size="10.6" fill="#000" textLength="53.5" lengthAdjust="spacingAndGlyphs" >Door  6"X2"</text>
<line x1="304.7" y1="411.9" x2="354.5" y2="411.9" stroke="#000" stroke-width="0.8" />
<circle cx="355.2" cy="411.9" r="1.1" fill="#000"/>
<rect x="246.1" y="456.3" width="58.7" height="29.4" stroke="#555" stroke-width="0.9" fill="none" />
<text x="302.4" y="466.7" font-family='"Liberation Sans", sans-serif' font-size="10.6" fill="#000" text-anchor="end" textLength="43.6" lengthAdjust="spacingAndGlyphs" >Door stop</text>
<text x="248.3" y="480.9" font-family='"Liberation Sans", sans-serif' font-size="10.6" fill="#000" textLength="27.8" lengthAdjust="spacingAndGlyphs" >PTR:1</text>
<text x="279.6" y="476.3" font-family='"Liberation Sans", sans-serif' font-size="6.6" fill="#000" >3</text>
<line x1="279.6" y1="477.3" x2="283.6" y2="477.3" stroke="#666" stroke-width="0.45" />
<text x="279.6" y="483.3" font-family='"Liberation Sans", sans-serif' font-size="6.6" fill="#000" >4</text>
<text x="283.7" y="476.9" font-family='"Liberation Sans", sans-serif' font-size="6.5" fill="#000" font-weight="bold" >"</text>
<text x="287.5" y="480.9" font-family='"Liberation Sans", sans-serif' font-size="9.5" fill="#000" textLength="4.6" lengthAdjust="spacingAndGlyphs" >x</text>
<text x="294.8" y="476.3" font-family='"Liberation Sans", sans-serif' font-size="6.6" fill="#000" >3</text>
<line x1="294.8" y1="477.3" x2="298.8" y2="477.3" stroke="#666" stroke-width="0.45" />
<text x="294.8" y="483.3" font-family='"Liberation Sans", sans-serif' font-size="6.6" fill="#000" >4</text>
<text x="298.9" y="476.9" font-family='"Liberation Sans", sans-serif' font-size="6.5" fill="#000" font-weight="bold" >"</text>
<line x1="304.8" y1="467.7" x2="347.5" y2="467.7" stroke="#333" stroke-width="0.8" />
<rect x="238.7" y="505.6" width="65.5" height="12" stroke="#555" stroke-width="0.9" fill="none" />
<text x="240.6" y="515.6" font-family='"Liberation Sans", sans-serif' font-size="10.6" fill="#000" textLength="62" lengthAdjust="spacingAndGlyphs" >Clavo concha</text>
<line x1="304.2" y1="516.6" x2="387.3" y2="516.6" stroke="#000" stroke-width="0.8" />
<rect x="238" y="554.5" width="58" height="26.1" stroke="#555" stroke-width="0.9" fill="none" />
<text x="240" y="565.3" font-family='"Liberation Sans", sans-serif' font-size="10.6" fill="#000" textLength="45" lengthAdjust="spacingAndGlyphs" >Threshold</text>
<text x="240" y="577.3" font-family='"Liberation Sans", sans-serif' font-size="10.6" fill="#000" textLength="54.2" lengthAdjust="spacingAndGlyphs" >(See Detail)</text>
<line x1="296" y1="566.2" x2="347.5" y2="566.2" stroke="#000" stroke-width="0.8" />
<line x1="337.3" y1="594.3" x2="447" y2="594.3" stroke="#000" stroke-width="1" />
<line x1="470" y1="594.3" x2="542.5" y2="594.3" stroke="#000" stroke-width="1" />
<polygon points="337.3,594.3 346.8,592.5 346.8,596.1" fill="#000"/>
<polygon points="542.5,594.3 533,592.5 533,596.1" fill="#000"/>
<text x="454.5" y="600.3" font-family='"Liberation Sans", sans-serif' font-size="17.3" fill="#000" text-anchor="middle" textLength="24.5" lengthAdjust="spacingAndGlyphs" >42"</text>
<clipPath id="cpn"><rect x="300" y="600" width="260" height="10.6"/></clipPath>
<g clip-path="url(#cpn)">
<text x="439" y="620.5" font-family='"Liberation Sans", sans-serif' font-size="17.3" fill="#000" text-anchor="middle" textLength="104" lengthAdjust="spacingAndGlyphs" >Nailing fin 45"</text>
</g>
<rect x="75.7" y="222.8" width="61" height="19.6" stroke="#000" stroke-width="1.6" fill="none" />
<text x="132.5" y="238.6" font-family='"Liberation Sans", sans-serif' font-size="9.5" fill="#000" text-anchor="end" textLength="22" lengthAdjust="spacingAndGlyphs" >6"x 2"</text>
<rect x="95.2" y="244.4" width="17.2" height="7.4" stroke="#000" stroke-width="1.3" fill="none" />
<line x1="112.4" y1="251.8" x2="112.4" y2="263.8" stroke="#000" stroke-width="0.9" />
<line x1="112.4" y1="262.5" x2="116.5" y2="262.5" stroke="#000" stroke-width="0.9" />
<text x="97" y="266.3" font-family='"Liberation Sans", sans-serif' font-size="8.2" fill="#000" textLength="14" lengthAdjust="spacingAndGlyphs" >3/8"</text>
<rect x="116.8" y="245.3" width="19.5" height="59.7" stroke="#000" stroke-width="1.4" fill="none" />
<text x="122.6" y="252" font-family='"Liberation Sans", sans-serif' font-size="11.5" fill="#000" textLength="49" lengthAdjust="spacingAndGlyphs" transform="rotate(90 122.6 252)" >DOOR 6"x 2"</text>
<g transform="translate(148.8,286.3) rotate(-90)">
<text x="0" y="0" font-family='"Liberation Sans", sans-serif' font-size="9" fill="#000" textLength="11.2" lengthAdjust="spacingAndGlyphs" >1"X</text>
<text x="11.6" y="-4.2" font-family='"Liberation Sans", sans-serif' font-size="5.5" fill="#000" >1</text>
<line x1="11.3" y1="-2.9" x2="15.5" y2="-2.9" stroke="#000" stroke-width="0.5" />
<text x="11.6" y="1.2" font-family='"Liberation Sans", sans-serif' font-size="5.5" fill="#000" >2</text>
<text x="15.6" y="-4" font-family='"Liberation Sans", sans-serif' font-size="5.5" fill="#000" >"</text>
</g>
<rect x="136.6" y="295.9" width="6.1" height="9.1" fill="#000"/>
<line x1="142.7" y1="292" x2="142.7" y2="296" stroke="#000" stroke-width="0.8" />
<line x1="142.7" y1="292" x2="146" y2="292" stroke="#000" stroke-width="0.8" />
<line x1="116.5" y1="305" x2="116.5" y2="312.6" stroke="#000" stroke-width="1.4" />
<line x1="116.9" y1="312.6" x2="116.9" y2="361.5" stroke="#000" stroke-width="1.3" stroke-dasharray="14.5 5"/>
<line x1="116.5" y1="361.5" x2="116.5" y2="558" stroke="#000" stroke-width="1.4" />
<rect x="116.5" y="305.3" width="6.5" height="7.1" fill="#333"/>
<rect x="116.5" y="361" width="6.5" height="7.1" fill="#333"/>
<line x1="123.1" y1="312.6" x2="123.1" y2="361.5" stroke="#000" stroke-width="1.2" stroke-dasharray="14 5.5"/>
<rect x="130.4" y="306" width="14.4" height="63" stroke="#000" stroke-width="1.3" fill="none" />
<rect x="132.4" y="308.7" width="10.3" height="4.5" stroke="#000" stroke-width="1" fill="#fff" />
<rect x="132.4" y="356.8" width="10.3" height="4.5" stroke="#000" stroke-width="1" fill="#fff" />
<rect x="131.8" y="313.8" width="11.6" height="42.4" stroke="#000" stroke-width="1.1" fill="none" />
<rect x="133.6" y="318.3" width="4.3" height="33.7" stroke="#000" stroke-width="1" fill="#fff" />
<line x1="139" y1="318" x2="139" y2="352" stroke="#444" stroke-width="0.7" />
<line x1="123" y1="368.5" x2="142" y2="366.5" stroke="#000" stroke-width="0.9" />
<line x1="144.8" y1="312" x2="150" y2="312" stroke="#000" stroke-width="0.7" />
<line x1="146" y1="300" x2="146" y2="318" stroke="#000" stroke-width="0.7" />
<line x1="150" y1="305" x2="150" y2="318" stroke="#000" stroke-width="0.7" />
<line x1="146" y1="316.5" x2="160.5" y2="316.5" stroke="#000" stroke-width="0.6" />
<line x1="160.5" y1="316.5" x2="161.5" y2="319" stroke="#000" stroke-width="0.6" />
<text x="150.5" y="300.5" font-family='"Liberation Sans", sans-serif' font-size="5" fill="#000" transform="rotate(90 150.5 300.5)" >1</text>
<text x="155" y="300.5" font-family='"Liberation Sans", sans-serif' font-size="5" fill="#000" transform="rotate(90 155 300.5)" >4</text>
<text x="152.5" y="322" font-family='"Liberation Sans", sans-serif' font-size="5" fill="#000" transform="rotate(90 152.5 322)" >1</text>
<text x="157" y="322" font-family='"Liberation Sans", sans-serif' font-size="5" fill="#000" transform="rotate(90 157 322)" >2</text>
<line x1="152" y1="327.5" x2="156" y2="327.5" stroke="#000" stroke-width="0.5" />
<text x="164.2" y="348.8" font-family='"Liberation Sans", sans-serif' font-size="7.8" fill="#333" textLength="9.6" lengthAdjust="spacingAndGlyphs" transform="rotate(-90 164.2 348.8)" >Int.</text>
<rect x="117" y="371.4" width="20" height="186.6" stroke="#000" stroke-width="1.5" fill="none" />
<rect x="136.6" y="368.5" width="6.1" height="11.5" fill="#000"/>
<rect x="110.4" y="425" width="6" height="6.2" fill="#3a3a3a"/>
<rect x="137.5" y="425" width="6" height="6.2" fill="#3a3a3a"/>
<rect x="110.4" y="497.5" width="6" height="6.2" fill="#3a3a3a"/>
<rect x="137.5" y="497.5" width="6" height="6.2" fill="#3a3a3a"/>
<path d="M116.5,440 A5.5,5.5 0 0 0 116.5,451" stroke="#000" stroke-width="1" fill="none" />
<path d="M137.3,440 A5.5,5.5 0 0 1 137.3,451" stroke="#000" stroke-width="1" fill="none" />
<path d="M116.5,477 A5.5,5.5 0 0 0 116.5,488" stroke="#000" stroke-width="1" fill="none" />
<path d="M137.3,477 A5.5,5.5 0 0 1 137.3,488" stroke="#000" stroke-width="1" fill="none" />
<text x="123.2" y="458.5" font-family='"Liberation Sans", sans-serif' font-size="11.5" fill="#000" textLength="26" lengthAdjust="spacingAndGlyphs" transform="rotate(90 123.2 458.5)" >30"x 2"</text>
<text x="99.6" y="451.5" font-family='"Liberation Sans", sans-serif' font-size="6.4" fill="#333" textLength="41" lengthAdjust="spacingAndGlyphs" transform="rotate(90 99.6 451.5)" >Clavo concha 1</text>
<text x="99.6" y="493.5" font-family='"Liberation Sans", sans-serif' font-size="4.5" fill="#333" transform="rotate(90 99.6 493.5)" >1</text>
<line x1="103.5" y1="448" x2="110.5" y2="448" stroke="#000" stroke-width="0.5" />
<text x="98.5" y="519.2" font-family='"Liberation Sans", sans-serif' font-size="7.5" fill="#000" >5</text>
<text x="102.8" y="516.5" font-family='"Liberation Sans", sans-serif' font-size="6" fill="#000" >"</text>
<text x="98.5" y="527" font-family='"Liberation Sans", sans-serif' font-size="7.5" fill="#000" >8</text>
<line x1="110.8" y1="504.5" x2="109" y2="527" stroke="#000" stroke-width="0.5" />
<line x1="116.9" y1="557.5" x2="136.8" y2="557.5" stroke="#000" stroke-width="1.5" />
<rect x="114" y="558.6" width="22.4" height="5.4" stroke="#555" stroke-width="0.9" fill="none" />
<line x1="124" y1="559" x2="124" y2="563.7" stroke="#000" stroke-width="1.4" />
<line x1="128" y1="559" x2="128" y2="563.7" stroke="#000" stroke-width="1.4" />
<line x1="132" y1="559" x2="132" y2="563.7" stroke="#000" stroke-width="1.4" />
<path d="M76.2,579 L76.2,574.4 L111.5,564.4 L136.4,564.4 L136.4,579 Z" stroke="#000" stroke-width="1.6" fill="none" />
<line x1="76.2" y1="579" x2="136.4" y2="579" stroke="#000" stroke-width="2.2" />
<text x="102.8" y="553.7" font-family='"Liberation Sans", sans-serif' font-size="5.6" fill="#333" text-anchor="end" textLength="29.5" lengthAdjust="spacingAndGlyphs" >Door bottom</text>
<text x="102.8" y="560.7" font-family='"Liberation Sans", sans-serif' font-size="5.6" fill="#333" text-anchor="end" textLength="15" lengthAdjust="spacingAndGlyphs" >sweep</text>
<line x1="104.8" y1="561.5" x2="123" y2="561.5" stroke="#000" stroke-width="0.5" />
<line x1="113.5" y1="551" x2="113.5" y2="563" stroke="#000" stroke-width="0.5" />
<line x1="76.2" y1="579" x2="76.2" y2="591" stroke="#000" stroke-width="1" />
<line x1="136.6" y1="579" x2="136.6" y2="591" stroke="#000" stroke-width="1" />
<line x1="76.2" y1="589.1" x2="97" y2="589.1" stroke="#000" stroke-width="1" />
<line x1="119.4" y1="589.1" x2="136.6" y2="589.1" stroke="#000" stroke-width="1" />
<text x="108.3" y="584.8" font-family='"Liberation Sans", sans-serif' font-size="4.8" fill="#333" text-anchor="middle" textLength="20.3" lengthAdjust="spacingAndGlyphs" >JAMB Size</text>
<text x="108.2" y="590" font-family='"Liberation Sans", sans-serif' font-size="4.8" fill="#333" text-anchor="middle" >6"</text>
<text x="108.3" y="595.6" font-family='"Liberation Sans", sans-serif' font-size="4.8" fill="#333" text-anchor="middle" textLength="14.7" lengthAdjust="spacingAndGlyphs" >Open in</text>
<rect x="739" y="233.7" width="34.2" height="102.8" stroke="#000" stroke-width="1.9" fill="none" />
<text x="764.5" y="275.7" font-family='"Liberation Sans", sans-serif' font-size="14" fill="#000" text-anchor="middle" textLength="37" lengthAdjust="spacingAndGlyphs" transform="rotate(-90 764.5 275.7)" >6"x 2"</text>
<path d="M776,233.7 L879.6,233.7 L879.6,267.2 L776,267.2 Z" stroke="#000" stroke-width="1.9" fill="none" />
<text x="787.4" y="256.6" font-family='"Liberation Sans", sans-serif' font-size="14" fill="#000" textLength="84.8" lengthAdjust="spacingAndGlyphs" >DOOR 6"x 2"</text>
<circle cx="775.7" cy="224.7" r="8.6" stroke="#000" stroke-width="1.1" fill="#fff"/>
<line x1="772.5" y1="224.7" x2="778.9" y2="224.7" stroke="#000" stroke-width="0.9" />
<line x1="775.7" y1="221.5" x2="775.7" y2="227.9" stroke="#000" stroke-width="0.9" />
<text x="741.7" y="203.7" font-family='"Liberation Sans", sans-serif' font-size="11" fill="#000" textLength="26.6" lengthAdjust="spacingAndGlyphs" >Hinge</text>
<text x="747" y="215" font-family='"Liberation Sans", sans-serif' font-size="11" fill="#000" textLength="18" lengthAdjust="spacingAndGlyphs" >Ø1"</text>
<path d="M771,205 L773.5,205 L775.5,212.5" stroke="#000" stroke-width="0.7" fill="none" />
<rect x="776" y="274.6" width="12.5" height="29.7" stroke="#000" stroke-width="1.4" fill="none" />
<line x1="779.5" y1="299" x2="779.5" y2="318" stroke="#000" stroke-width="0.6" />
<circle cx="779.5" cy="299" r="0.9" fill="#000"/>
<text x="789.4" y="324.4" font-family='"Liberation Sans", sans-serif' font-size="12.5" fill="#000" textLength="61.5" lengthAdjust="spacingAndGlyphs" >Door stop 1</text>
<text x="855.4" y="318.8" font-family='"Liberation Sans", sans-serif' font-size="7.2" fill="#000" textLength="4" lengthAdjust="spacingAndGlyphs" >3</text>
<line x1="855.3" y1="320" x2="859.6" y2="320" stroke="#000" stroke-width="0.5" />
<text x="855.4" y="327" font-family='"Liberation Sans", sans-serif' font-size="7.2" fill="#000" textLength="4" lengthAdjust="spacingAndGlyphs" >4</text>
<text x="859.6" y="323" font-family='"Liberation Sans", sans-serif' font-size="9.5" fill="#000" textLength="3.5" lengthAdjust="spacingAndGlyphs" >"</text>
<text x="862.9" y="324.4" font-family='"Liberation Sans", sans-serif' font-size="12.5" fill="#000" textLength="6.4" lengthAdjust="spacingAndGlyphs" >x</text>
<text x="869.6" y="318.8" font-family='"Liberation Sans", sans-serif' font-size="7.2" fill="#000" textLength="4" lengthAdjust="spacingAndGlyphs" >3</text>
<line x1="869.5" y1="320" x2="873.8" y2="320" stroke="#000" stroke-width="0.5" />
<text x="869.6" y="327" font-family='"Liberation Sans", sans-serif' font-size="7.2" fill="#000" textLength="4" lengthAdjust="spacingAndGlyphs" >4</text>
<text x="873.9" y="323" font-family='"Liberation Sans", sans-serif' font-size="9.5" fill="#000" textLength="3.5" lengthAdjust="spacingAndGlyphs" >"</text>
<line x1="776" y1="274.4" x2="811.7" y2="274.4" stroke="#000" stroke-width="1.4" />
<line x1="808" y1="274.4" x2="808" y2="279" stroke="#000" stroke-width="0.8" />
<text x="812.4" y="290" font-family='"Liberation Sans", sans-serif' font-size="12.8" fill="#000" text-anchor="middle" textLength="20.5" lengthAdjust="spacingAndGlyphs" transform="rotate(-90 812.4 290)" >3/8"</text>
<rect x="773.9" y="278.7" width="1.6" height="8.7" stroke="#000" stroke-width="0.6" fill="none" />
<line x1="773.2" y1="233.7" x2="776" y2="233.7" stroke="#000" stroke-width="1.2" />
<line x1="776" y1="267.2" x2="776" y2="274.6" stroke="#000" stroke-width="1.2" />
<circle cx="867.3" cy="219.2" r="4.8" stroke="#000" stroke-width="1" fill="#fff"/>
<line x1="865.5" y1="219.2" x2="869.1" y2="219.2" stroke="#000" stroke-width="0.7" />
<line x1="867.3" y1="217.4" x2="867.3" y2="221" stroke="#000" stroke-width="0.7" />
<text x="845.5" y="205" font-family='"Liberation Sans", sans-serif' font-size="11.5" fill="#000" text-anchor="middle" textLength="31" lengthAdjust="spacingAndGlyphs" transform="rotate(38 845.5 205)" >Ø5/8"</text>
<line x1="872.2" y1="189.8" x2="872.2" y2="211.6" stroke="#000" stroke-width="0.9" />
<line x1="893.8" y1="189.8" x2="893.8" y2="211.6" stroke="#000" stroke-width="0.9" />
<line x1="872.2" y1="206" x2="893.8" y2="206" stroke="#000" stroke-width="0.9" />
<polygon points="893.8,206 888.8,204.7 888.8,207.3" fill="#000"/>
<text x="896.3" y="214.5" font-family='"Liberation Sans", sans-serif' font-size="13.5" fill="#000" textLength="7" lengthAdjust="spacingAndGlyphs" >1</text>
<text x="902.6" y="206.5" font-family='"Liberation Sans", sans-serif' font-size="9.5" fill="#000" textLength="4.8" lengthAdjust="spacingAndGlyphs" >1</text>
<line x1="903.5" y1="214.5" x2="911" y2="198.5" stroke="#000" stroke-width="0.9" />
<text x="908.2" y="215" font-family='"Liberation Sans", sans-serif' font-size="13.5" fill="#000" textLength="12.8" lengthAdjust="spacingAndGlyphs" >4"</text>
<rect x="880.3" y="221" width="13.1" height="22.9" stroke="#000" stroke-width="1.2" fill="none" />
<rect x="882.9" y="223.2" width="8.5" height="18.6" stroke="#000" stroke-width="1" fill="none" />
<line x1="880.3" y1="243.9" x2="902" y2="243.9" stroke="#000" stroke-width="1" />
<line x1="872" y1="221.5" x2="1030" y2="221.5" stroke="#666" stroke-width="0.8" />
<pattern id="hat" width="2.5" height="2.5" patternUnits="userSpaceOnUse" patternTransform="rotate(45)"><rect width="2.5" height="2.5" fill="#fff"/><rect width="1.3" height="2.5" fill="#000"/></pattern>
<rect x="893.6" y="221.5" width="8.6" height="8.6" stroke="#000" stroke-width="0.8" fill="url(#hat)" />
<rect x="1000.2" y="221.5" width="8.6" height="8.6" stroke="#000" stroke-width="0.8" fill="url(#hat)" />
<rect x="893.6" y="230.6" width="8" height="9.2" fill="#111"/>
<rect x="1000.6" y="230.6" width="8" height="9.2" fill="#111"/>
<line x1="902" y1="230.8" x2="1000.5" y2="230.8" stroke="#111" stroke-width="2" />
<line x1="902" y1="232.5" x2="1000.5" y2="232.5" stroke="#777" stroke-width="0.8" />
<line x1="902" y1="238.3" x2="1000.5" y2="238.3" stroke="#777" stroke-width="0.8" />
<line x1="902" y1="239.7" x2="1000.5" y2="239.7" stroke="#111" stroke-width="2" />
<line x1="879.6" y1="241" x2="904" y2="241" stroke="#000" stroke-width="1.2" />
<line x1="1001.5" y1="241" x2="1023.3" y2="241" stroke="#000" stroke-width="1.2" />
<line x1="879.6" y1="256.8" x2="1019.8" y2="256.8" stroke="#000" stroke-width="1" />
<line x1="879.6" y1="267.4" x2="1023.3" y2="267.4" stroke="#000" stroke-width="1.1" stroke-dasharray="6 4"/>
<rect x="945.6" y="257.8" width="11.2" height="9.4" stroke="#000" stroke-width="0.8" fill="url(#hat)" />
<circle cx="951.5" cy="262.5" r="0.8" fill="#000"/>
<line x1="951.5" y1="263" x2="948" y2="306" stroke="#000" stroke-width="0.5" />
<line x1="948" y1="306" x2="944.5" y2="306" stroke="#000" stroke-width="0.5" />
<text x="928" y="296.5" font-family='"Liberation Sans", sans-serif' font-size="12" fill="#000" textLength="7" lengthAdjust="spacingAndGlyphs" >5</text>
<line x1="928" y1="298" x2="936" y2="298" stroke="#000" stroke-width="0.5" />
<text x="928" y="306.5" font-family='"Liberation Sans", sans-serif' font-size="12" fill="#000" textLength="7" lengthAdjust="spacingAndGlyphs" >8</text>
<text x="936.5" y="292.5" font-family='"Liberation Sans", sans-serif' font-size="9" fill="#000" >"</text>
<text x="966" y="253.3" font-family='"Liberation Sans", sans-serif' font-size="14" fill="#000" textLength="31" lengthAdjust="spacingAndGlyphs" >1 1/4"</text>
<line x1="998.5" y1="249.5" x2="1003" y2="249.5" stroke="#000" stroke-width="0.8" />
<line x1="1000" y1="246" x2="1000" y2="255" stroke="#000" stroke-width="0.8" />
<rect x="1008.9" y="221" width="12.2" height="22.9" stroke="#000" stroke-width="1.2" fill="none" />
<rect x="1010.9" y="223.2" width="8.5" height="18.6" stroke="#000" stroke-width="1" fill="none" />
<line x1="1009" y1="220.3" x2="1030" y2="220.3" stroke="#000" stroke-width="1.2" />
<line x1="1000" y1="244.5" x2="1020" y2="244.5" stroke="#000" stroke-width="0.8" />
<line x1="1000" y1="248" x2="1020" y2="248" stroke="#000" stroke-width="0.8" />
<line x1="1020" y1="241" x2="1020" y2="252" stroke="#000" stroke-width="0.8" />
<rect x="972.5" y="189.8" width="8.5" height="8.5" stroke="#000" stroke-width="1" fill="none" />
<line x1="972" y1="189.3" x2="982.5" y2="199" stroke="#000" stroke-width="1" />
<text x="985.3" y="190" font-family='"Liberation Sans", sans-serif' font-size="10.5" fill="#000" textLength="5.6" lengthAdjust="spacingAndGlyphs" >1</text>
<line x1="984.5" y1="191.5" x2="991.5" y2="191.5" stroke="#000" stroke-width="0.5" />
<text x="984.8" y="202.7" font-family='"Liberation Sans", sans-serif' font-size="12.5" fill="#000" textLength="7" lengthAdjust="spacingAndGlyphs" >2</text>
<text x="991" y="190.5" font-family='"Liberation Sans", sans-serif' font-size="11" fill="#000" font-weight="bold" >"</text>
<line x1="1002" y1="203.5" x2="1004" y2="203.5" stroke="#000" stroke-width="0.5" />
<line x1="1004" y1="203.5" x2="1004.5" y2="221" stroke="#000" stroke-width="0.5" />
<rect x="1023.3" y="233.5" width="103.7" height="34" stroke="#000" stroke-width="1.9" fill="none" />
<rect x="1023.3" y="224.6" width="17.3" height="8.5" stroke="#000" stroke-width="1.1" fill="none" rx="1.5"/>
<rect x="1129.6" y="233.5" width="35" height="102.8" stroke="#000" stroke-width="1.9" fill="none" />
<rect x="1115" y="274" width="13" height="30.4" stroke="#000" stroke-width="1.4" fill="none" />
<rect x="1128.3" y="283.8" width="1.6" height="9.5" stroke="#000" stroke-width="0.7" fill="none" />
<rect x="862" y="224.6" width="16.5" height="8.5" stroke="#000" stroke-width="1.1" fill="none" rx="1.5"/>
<line x1="889.3" y1="389" x2="921.7" y2="389" stroke="#000" stroke-width="0.9" />
<line x1="889.3" y1="549" x2="921.7" y2="549" stroke="#000" stroke-width="0.9" />
<line x1="900.1" y1="389.5" x2="900.1" y2="457" stroke="#000" stroke-width="0.9" />
<line x1="900.1" y1="481" x2="900.1" y2="548.5" stroke="#000" stroke-width="0.9" />
<polygon points="900.1,389.5 898.5,395.5 901.7,395.5" fill="#000"/>
<polygon points="900.1,548.6 898.5,542.6 901.7,542.6" fill="#000"/>
<text x="893.5" y="470.3" font-family='"Liberation Sans", sans-serif' font-size="17" fill="#000" text-anchor="middle" textLength="22" lengthAdjust="spacingAndGlyphs" transform="rotate(-90 893.5 470.3)" >17"</text>
<path d="M958.7,416.2 C958.85,416.92 959.88,419.03 959.6,420.5 C959.32,421.97 958.43,423.83 957,425 C955.57,426.17 953.33,427.17 951,427.5 C948.67,427.83 945.67,427.92 943,427 C940.33,426.08 937.08,424.33 935,422 C932.92,419.67 931.17,416.33 930.5,413 C929.83,409.67 930.08,405.5 931,402 C931.92,398.5 933.75,394.67 936,392 C938.25,389.33 941.33,387.2 944.5,386 C947.67,384.8 951.42,384.55 955,384.8 C958.58,385.05 962.5,385.8 966,387.5 C969.5,389.2 973.08,391.92 976,395 C978.92,398.08 981.63,402 983.5,406 C985.37,410 986.65,414.67 987.2,419 C987.75,423.33 987.33,428.25 986.8,432 C986.27,435.75 985.15,438.88 984,441.5 C982.85,444.12 981.93,444.63 979.9,447.7 C977.87,450.77 974.67,456.15 971.8,459.9 C968.93,463.65 965.8,466.8 962.7,470.2 C959.6,473.6 956.6,476.37 953.2,480.3 C949.8,484.23 945.08,489.85 942.3,493.8 C939.52,497.75 938,500.63 936.5,504 C935,507.37 933.8,510.5 933.3,514 C932.8,517.5 932.8,521.42 933.5,525 C934.2,528.58 935.58,532.5 937.5,535.5 C939.42,538.5 942.08,541.15 945,543 C947.92,544.85 951.87,546.27 955,546.6 C958.13,546.93 961.43,546.27 963.8,545 C966.17,543.73 968.17,541.45 969.2,539 C970.23,536.55 970.5,533.03 970,530.3 C969.5,527.57 967.9,524.38 966.2,522.6 C964.5,520.82 961.7,519.7 959.8,519.6 C957.9,519.5 955.95,520.83 954.8,522 C953.65,523.17 952.88,525.17 952.9,526.6 C952.92,528.03 954,529.77 954.9,530.6 C955.8,531.43 957.73,531.43 958.3,531.6" stroke="#000" stroke-width="5.6" fill="none" />
<path d="M958.7,416.2 C958.85,416.92 959.88,419.03 959.6,420.5 C959.32,421.97 958.43,423.83 957,425 C955.57,426.17 953.33,427.17 951,427.5 C948.67,427.83 945.67,427.92 943,427 C940.33,426.08 937.08,424.33 935,422 C932.92,419.67 931.17,416.33 930.5,413 C929.83,409.67 930.08,405.5 931,402 C931.92,398.5 933.75,394.67 936,392 C938.25,389.33 941.33,387.2 944.5,386 C947.67,384.8 951.42,384.55 955,384.8 C958.58,385.05 962.5,385.8 966,387.5 C969.5,389.2 973.08,391.92 976,395 C978.92,398.08 981.63,402 983.5,406 C985.37,410 986.65,414.67 987.2,419 C987.75,423.33 987.33,428.25 986.8,432 C986.27,435.75 985.15,438.88 984,441.5 C982.85,444.12 981.93,444.63 979.9,447.7 C977.87,450.77 974.67,456.15 971.8,459.9 C968.93,463.65 965.8,466.8 962.7,470.2 C959.6,473.6 956.6,476.37 953.2,480.3 C949.8,484.23 945.08,489.85 942.3,493.8 C939.52,497.75 938,500.63 936.5,504 C935,507.37 933.8,510.5 933.3,514 C932.8,517.5 932.8,521.42 933.5,525 C934.2,528.58 935.58,532.5 937.5,535.5 C939.42,538.5 942.08,541.15 945,543 C947.92,544.85 951.87,546.27 955,546.6 C958.13,546.93 961.43,546.27 963.8,545 C966.17,543.73 968.17,541.45 969.2,539 C970.23,536.55 970.5,533.03 970,530.3 C969.5,527.57 967.9,524.38 966.2,522.6 C964.5,520.82 961.7,519.7 959.8,519.6 C957.9,519.5 955.95,520.83 954.8,522 C953.65,523.17 952.88,525.17 952.9,526.6 C952.92,528.03 954,529.77 954.9,530.6 C955.8,531.43 957.73,531.43 958.3,531.6" stroke="#fff" stroke-width="3.6" fill="none" />
<path d="M982.88,443.59 L982.59,444.01 L982.28,444.43 L981.96,444.86 L981.61,445.31 L981.24,445.81 L980.83,446.36 L980.39,446.98 L979.90,447.70 L979.37,448.51 L978.79,449.41 L978.18,450.37 L977.53,451.39 L976.86,452.45 L976.16,453.54 L975.45,454.65 L974.72,455.75 L973.99,456.84 L973.25,457.91 L972.52,458.93 L971.80,459.90 L971.08,460.83 L970.35,461.73 L969.60,462.61 L968.86,463.48 L968.10,464.34 L967.34,465.18 L966.57,466.02 L965.80,466.85 L965.03,467.68 L964.25,468.52 L963.48,469.35 L962.70,470.20 L961.93,471.04 L961.16,471.86 L960.39,472.66 L959.61,473.46 L958.84,474.25 L958.06,475.05 L957.28,475.86 L956.49,476.69 L955.68,477.54 L954.87,478.42 L954.04,479.34 L953.20,480.30 L952.32,481.32 L951.41,482.39 L950.45,483.51 L949.48,484.67 L948.50,485.85 L947.52,487.04 L946.55,488.24 L945.61,489.42 L944.70,490.58 L943.84,491.70 L943.03,492.78 L942.30,493.80 L941.63,494.77 L941.01,495.69 L940.43,496.59 L939.89,497.45" stroke="#000" stroke-width="7.8" fill="none" stroke-linejoin="round"/>
<path d="M982.88,443.59 L982.59,444.01 L982.28,444.43 L981.96,444.86 L981.61,445.31 L981.24,445.81 L980.83,446.36 L980.39,446.98 L979.90,447.70 L979.37,448.51 L978.79,449.41 L978.18,450.37 L977.53,451.39 L976.86,452.45 L976.16,453.54 L975.45,454.65 L974.72,455.75 L973.99,456.84 L973.25,457.91 L972.52,458.93 L971.80,459.90 L971.08,460.83 L970.35,461.73 L969.60,462.61 L968.86,463.48 L968.10,464.34 L967.34,465.18 L966.57,466.02 L965.80,466.85 L965.03,467.68 L964.25,468.52 L963.48,469.35 L962.70,470.20 L961.93,471.04 L961.16,471.86 L960.39,472.66 L959.61,473.46 L958.84,474.25 L958.06,475.05 L957.28,475.86 L956.49,476.69 L955.68,477.54 L954.87,478.42 L954.04,479.34 L953.20,480.30 L952.32,481.32 L951.41,482.39 L950.45,483.51 L949.48,484.67 L948.50,485.85 L947.52,487.04 L946.55,488.24 L945.61,489.42 L944.70,490.58 L943.84,491.70 L943.03,492.78 L942.30,493.80 L941.63,494.77 L941.01,495.69 L940.43,496.59 L939.89,497.45" stroke="#fff" stroke-width="5.8" fill="none" stroke-linejoin="round"/>
<line x1="976.5" y1="448.3" x2="983.3" y2="447.4" stroke="#000" stroke-width="1.1" />
<line x1="968" y1="460.4" x2="975.6" y2="459.4" stroke="#000" stroke-width="1.1" />
<line x1="958.5" y1="470.6" x2="966.9" y2="469.8" stroke="#000" stroke-width="1.1" />
<line x1="949.5" y1="480.6" x2="957" y2="480.1" stroke="#000" stroke-width="1.1" />
<line x1="938.2" y1="495.2" x2="946.5" y2="492.4" stroke="#000" stroke-width="1.1" />
<line x1="926.4" y1="389" x2="926.4" y2="549" stroke="#000" stroke-width="1" />
<line x1="929.3" y1="389" x2="929.3" y2="549" stroke="#000" stroke-width="1" />
<rect x="893.3" y="562.3" width="118.4" height="61" stroke="#333" stroke-width="1.2" fill="none" />
<text x="953" y="589.7" font-family='"Liberation Serif", serif' font-size="25.5" fill="#000" text-anchor="middle" textLength="111.5" lengthAdjust="spacingAndGlyphs" stroke="#000" stroke-width="0.12">Florence</text>
<text x="952.5" y="614.7" font-family='"Liberation Serif", serif' font-size="25.5" fill="#000" text-anchor="middle" textLength="91.6" lengthAdjust="spacingAndGlyphs" stroke="#000" stroke-width="0.12">twisted</text>
<text x="4" y="622.8" font-family='"Liberation Sans", sans-serif' font-size="10" fill="#000" >*</text>
<text x="8.3" y="622.8" font-family='"Liberation Sans", sans-serif' font-size="12.2" fill="#000" textLength="306.7" lengthAdjust="spacingAndGlyphs" >Size shown in PO is unit size including frame and threshold.</text>
<text x="4" y="633.7" font-family='"Liberation Sans", sans-serif' font-size="10" fill="#000" >*</text>
<text x="8.3" y="633.7" font-family='"Liberation Sans", sans-serif' font-size="12.2" fill="#000" textLength="395.7" lengthAdjust="spacingAndGlyphs" >Any change once signed and sent to production might result in extra charges.</text>
<text x="8" y="642.5" font-family='"Liberation Sans", sans-serif' font-size="8.6" fill="#000" textLength="707" lengthAdjust="spacingAndGlyphs" >Exclusive Iron Doors stands behind the quality of everything we sell and hope you are pleased with your product, if for any reason you are unsatis    ed you can write to one of our</text>
<text x="8" y="652.8" font-family='"Liberation Sans", sans-serif' font-size="8.6" fill="#000" textLength="744.5" lengthAdjust="spacingAndGlyphs" >representatives to verify your situation and determine how can we help you, but we do not accept returns in any of our products.Products are     nal and are not eligible for returns, changes</text>
<text x="8" y="663.3" font-family='"Liberation Sans", sans-serif' font-size="8.6" fill="#000" textLength="644" lengthAdjust="spacingAndGlyphs" >or alterations.By signing you agree to our terms and conditions, delivery pdf and forms of payment. *Doors measurements do not include the gaps between jambs</text>
<line x1="2.7" y1="664.8" x2="2.7" y2="822.5" stroke="#000" stroke-width="1.5" />
<line x1="2" y1="665" x2="484.5" y2="665" stroke="#000" stroke-width="1.5" />
<line x1="2" y1="822.5" x2="484.5" y2="822.5" stroke="#000" stroke-width="1.5" />
<line x1="172.9" y1="665" x2="172.9" y2="822.5" stroke="#000" stroke-width="1.5" />
<line x1="2" y1="724.8" x2="172.9" y2="724.8" stroke="#000" stroke-width="2" />
<line x1="3" y1="769.8" x2="80" y2="769.8" stroke="#000" stroke-width="2" />
<line x1="98" y1="769.8" x2="172.9" y2="769.8" stroke="#000" stroke-width="2" />
<text x="7.8" y="680" font-family='"Liberation Sans", sans-serif' font-size="9.2" fill="#000" textLength="45.4" lengthAdjust="spacingAndGlyphs" >PRODUCT:</text>
<rect x="57.35" y="671.95" width="13.7" height="11.1" stroke="#000" stroke-width="1.3" fill="none" />
<rect x="59.6" y="673.8" width="9.2" height="7.4" fill="#000"/>
<text x="75" y="681.8" font-family='"Liberation Sans", sans-serif' font-size="9.2" fill="#000" textLength="19.5" lengthAdjust="spacingAndGlyphs" >Door</text>
<rect x="116.95" y="671.95" width="14.1" height="11.1" stroke="#000" stroke-width="1.3" fill="none" />
<text x="135" y="681.8" font-family='"Liberation Sans", sans-serif' font-size="9.2" fill="#000" textLength="19.5" lengthAdjust="spacingAndGlyphs" >Gate</text>
<rect x="57.35" y="688.85" width="13.7" height="11" stroke="#000" stroke-width="1.3" fill="none" />
<text x="75.5" y="698.7" font-family='"Liberation Sans", sans-serif' font-size="9.2" fill="#000" textLength="32.5" lengthAdjust="spacingAndGlyphs" >Window</text>
<rect x="116.95" y="688.85" width="14.1" height="11" stroke="#000" stroke-width="1.3" fill="none" />
<text x="134.7" y="698.7" font-family='"Liberation Sans", sans-serif' font-size="9.2" fill="#000" textLength="30.3" lengthAdjust="spacingAndGlyphs" >Railling</text>
<rect x="57.35" y="706.15" width="13.7" height="10.7" stroke="#000" stroke-width="1.3" fill="none" />
<text x="75.5" y="715.5" font-family='"Liberation Sans", sans-serif' font-size="9.2" fill="#000" textLength="22.7" lengthAdjust="spacingAndGlyphs" >Other</text>
<line x1="104.3" y1="716.7" x2="165.8" y2="716.7" stroke="#000" stroke-width="1.1" />
<text x="7.8" y="737.7" font-family='"Liberation Sans", sans-serif' font-size="9.2" fill="#000" textLength="35.7" lengthAdjust="spacingAndGlyphs" >DESIGN:</text>
<rect x="54.45" y="732.55" width="12.6" height="10.8" stroke="#000" stroke-width="1.3" fill="none" />
<rect x="56.7" y="734.4" width="8.1" height="7.1" fill="#000"/>
<text x="71.9" y="741.9" font-family='"Liberation Sans", sans-serif' font-size="9.2" fill="#000" textLength="53.1" lengthAdjust="spacingAndGlyphs" >Wrought Iron</text>
<text x="21.9" y="758.3" font-family='"Liberation Sans", sans-serif' font-size="9.2" fill="#000" textLength="38.5" lengthAdjust="spacingAndGlyphs" >Name: ---</text>
<line x1="51.7" y1="759.7" x2="166.3" y2="759.7" stroke="#000" stroke-width="1.1" />
<text x="85.4" y="772.5" font-family='"Liberation Sans", sans-serif' font-size="9.2" fill="#000" textLength="8.3" lengthAdjust="spacingAndGlyphs" >or</text>
<rect x="7.95" y="777.35" width="12.2" height="10" stroke="#000" stroke-width="1.3" fill="none" />
<text x="24.6" y="787.2" font-family='"Liberation Sans", sans-serif' font-size="9.2" fill="#000" textLength="18.5" lengthAdjust="spacingAndGlyphs" >Riva:</text>
<line x1="42.7" y1="787.2" x2="104.2" y2="787.2" stroke="#000" stroke-width="1.1" />
<line x1="138.5" y1="787.2" x2="166.3" y2="787.2" stroke="#000" stroke-width="1.1" />
<text x="110.4" y="798" font-family='"Liberation Sans", sans-serif' font-size="9.2" fill="#000" textLength="24.6" lengthAdjust="spacingAndGlyphs" >#Lites</text>
<rect x="7.95" y="801.65" width="12.2" height="10.4" stroke="#000" stroke-width="1.3" fill="none" />
<text x="25.4" y="809" font-family='"Liberation Sans", sans-serif' font-size="9.2" fill="#000" textLength="36" lengthAdjust="spacingAndGlyphs" >Standard</text>
<text x="27" y="819.4" font-family='"Liberation Sans", sans-serif' font-size="9.2" fill="#000" textLength="29.7" lengthAdjust="spacingAndGlyphs" >(1 1/2")</text>
<rect x="63.15" y="801.65" width="12.9" height="10.4" stroke="#000" stroke-width="1.3" fill="none" />
<text x="80.8" y="809" font-family='"Liberation Sans", sans-serif' font-size="9.2" fill="#000" textLength="17.2" lengthAdjust="spacingAndGlyphs" >Slim</text>
<text x="80.2" y="819.4" font-family='"Liberation Sans", sans-serif' font-size="9.2" fill="#000" textLength="29.8" lengthAdjust="spacingAndGlyphs" >(1 1/4")</text>
<rect x="110.65" y="801.65" width="13.3" height="10.4" stroke="#000" stroke-width="1.3" fill="none" />
<text x="128" y="809" font-family='"Liberation Sans", sans-serif' font-size="9.2" fill="#000" textLength="45" lengthAdjust="spacingAndGlyphs" >Super Slim</text>
<text x="128" y="819.4" font-family='"Liberation Sans", sans-serif' font-size="9.2" fill="#000" textLength="42.4" lengthAdjust="spacingAndGlyphs" >(1/2") SDL</text>
<line x1="484.3" y1="665" x2="484.3" y2="822.5" stroke="#000" stroke-width="1.5" />
<line x1="172.9" y1="720.8" x2="484.3" y2="720.8" stroke="#000" stroke-width="1.5" />
<line x1="172.9" y1="747.5" x2="484.3" y2="747.5" stroke="#000" stroke-width="1.5" />
<line x1="172.9" y1="775.1" x2="484.3" y2="775.1" stroke="#000" stroke-width="1.5" />
<line x1="172.9" y1="795.9" x2="484.3" y2="795.9" stroke="#000" stroke-width="1.5" />
<line x1="316.7" y1="747.5" x2="316.7" y2="775.1" stroke="#000" stroke-width="1.5" />
<text x="175.9" y="675.5" font-family='"Liberation Sans", sans-serif' font-size="9.2" fill="#000" textLength="35.4" lengthAdjust="spacingAndGlyphs" >HANDLE</text>
<rect x="215.45" y="670.65" width="12.2" height="10" stroke="#000" stroke-width="1.3" fill="none" />
<rect x="217.7" y="672.5" width="7.7" height="6.3" fill="#000"/>
<text x="231.9" y="677.3" font-family='"Liberation Sans", sans-serif' font-size="9.2" fill="#000" textLength="30.9" lengthAdjust="spacingAndGlyphs" >Handle:</text>
<text x="282.5" y="674.7" font-family='"Liberation Sans", sans-serif' font-size="9.2" fill="#000" textLength="70.5" lengthAdjust="spacingAndGlyphs" >Florence Twisted</text>
<line x1="276.7" y1="678.7" x2="364.7" y2="678.7" stroke="#000" stroke-width="1.1" />
<text x="231.9" y="687.2" font-family='"Liberation Sans", sans-serif' font-size="7" fill="#000" textLength="124.8" lengthAdjust="spacingAndGlyphs" >(with rollercatch and deadbolt prep)</text>
<rect x="215.45" y="689.45" width="12.2" height="9.9" stroke="#000" stroke-width="1.3" fill="none" />
<text x="231.9" y="699.5" font-family='"Liberation Sans", sans-serif' font-size="9.2" fill="#000" textLength="136.8" lengthAdjust="spacingAndGlyphs" >American standard double boring</text>
<rect x="215.45" y="706.55" width="12.2" height="9.3" stroke="#000" stroke-width="1.3" fill="none" />
<text x="231.9" y="716" font-family='"Liberation Sans", sans-serif' font-size="9.2" fill="#000" textLength="25.6" lengthAdjust="spacingAndGlyphs" >Other:</text>
<line x1="262" y1="716.2" x2="351.3" y2="716.2" stroke="#000" stroke-width="1.1" />
<rect x="386.65" y="670.65" width="12" height="10" stroke="#000" stroke-width="1.3" fill="none" />
<text x="405.2" y="681.3" font-family='"Liberation Sans", sans-serif' font-size="9.2" fill="#000" textLength="64.8" lengthAdjust="spacingAndGlyphs" >Panic hardware</text>
<rect x="386.65" y="687.85" width="12" height="10.2" stroke="#000" stroke-width="1.3" fill="none" />
<text x="403.3" y="696.8" font-family='"Liberation Sans", sans-serif' font-size="9.2" fill="#000" textLength="52" lengthAdjust="spacingAndGlyphs" >Autocloser #</text>
<line x1="452.7" y1="698.2" x2="476" y2="698.2" stroke="#000" stroke-width="1.1" />
<rect x="386.65" y="704.65" width="12" height="10.2" stroke="#000" stroke-width="1.3" fill="none" />
<text x="403.3" y="713.3" font-family='"Liberation Sans", sans-serif' font-size="9.2" fill="#000" textLength="33.4" lengthAdjust="spacingAndGlyphs" >P. Bar #</text>
<line x1="431.3" y1="714.5" x2="454.8" y2="714.5" stroke="#000" stroke-width="1.1" />
<text x="176.7" y="730.7" font-family='"Liberation Sans", sans-serif' font-size="9.2" fill="#000" textLength="33.8" lengthAdjust="spacingAndGlyphs" >COLOR</text>
<rect x="178" y="733.3" width="29.3" height="12" stroke="#000" stroke-width="1.1" fill="none" />
<text x="180.7" y="742" font-family='"Liberation Sans", sans-serif' font-size="9.2" fill="#000" textLength="21.8" lengthAdjust="spacingAndGlyphs" >Black</text>
<text x="212.7" y="742" font-family='"Liberation Sans", sans-serif' font-size="9.2" fill="#000" textLength="41.3" lengthAdjust="spacingAndGlyphs" >Dark ORB</text>
<text x="264.7" y="742" font-family='"Liberation Sans", sans-serif' font-size="9.2" fill="#000" textLength="53.8" lengthAdjust="spacingAndGlyphs" >Medium ORB</text>
<text x="329.2" y="742" font-family='"Liberation Sans", sans-serif' font-size="9.2" fill="#000" textLength="47.8" lengthAdjust="spacingAndGlyphs" >Heavy ORB</text>
<text x="390" y="742" font-family='"Liberation Sans", sans-serif' font-size="9.2" fill="#000" textLength="28" lengthAdjust="spacingAndGlyphs" >Pewter</text>
<text x="428" y="742" font-family='"Liberation Sans", sans-serif' font-size="9.2" fill="#000" textLength="50.8" lengthAdjust="spacingAndGlyphs" >Antique gold</text>
<text x="176.7" y="758" font-family='"Liberation Sans", sans-serif' font-size="9.2" fill="#000" textLength="61.3" lengthAdjust="spacingAndGlyphs" >ACTIVE DOOR</text>
<rect x="236.65" y="761.95" width="12.2" height="9.9" stroke="#000" stroke-width="1.3" fill="none" />
<text x="253.2" y="770.7" font-family='"Liberation Sans", sans-serif' font-size="9.2" fill="#000" textLength="21.3" lengthAdjust="spacingAndGlyphs" >Right</text>
<rect x="280.55" y="761.95" width="12.3" height="9.9" stroke="#000" stroke-width="1.3" fill="none" />
<rect x="282.8" y="763.8" width="7.8" height="6.2" fill="#000"/>
<text x="296.7" y="770.7" font-family='"Liberation Sans", sans-serif' font-size="9.2" fill="#000" textLength="15.2" lengthAdjust="spacingAndGlyphs" >Left</text>
<text x="321.5" y="758" font-family='"Liberation Sans", sans-serif' font-size="9.2" fill="#000" textLength="29.8" lengthAdjust="spacingAndGlyphs" >SWING</text>
<rect x="358.15" y="761.45" width="12" height="9.4" stroke="#000" stroke-width="1.3" fill="none" />
<rect x="360.4" y="763.3" width="7.5" height="5.7" fill="#000"/>
<text x="374.8" y="769.9" font-family='"Liberation Sans", sans-serif' font-size="9.2" fill="#000" textLength="6.7" lengthAdjust="spacingAndGlyphs" >In</text>
<rect x="395.45" y="761.45" width="11.9" height="9.4" stroke="#000" stroke-width="1.3" fill="none" />
<text x="411.3" y="769.9" font-family='"Liberation Sans", sans-serif' font-size="9.2" fill="#000" textLength="14.7" lengthAdjust="spacingAndGlyphs" >Out</text>
<text x="178" y="785.3" font-family='"Liberation Sans", sans-serif' font-size="9.2" fill="#000" textLength="25.3" lengthAdjust="spacingAndGlyphs" >JAMB:</text>
<text x="214.8" y="788" font-family='"Liberation Sans", sans-serif' font-size="9.2" fill="#000" textLength="11.2" lengthAdjust="spacingAndGlyphs" >6 "</text>
<line x1="206.8" y1="789.9" x2="250" y2="789.9" stroke="#000" stroke-width="1.1" />
<text x="178" y="808" font-family='"Liberation Sans", sans-serif' font-size="9.2" fill="#000" textLength="53.9" lengthAdjust="spacingAndGlyphs" >THRESHOLD</text>
<rect x="234.15" y="805.95" width="12" height="9.6" stroke="#000" stroke-width="1.3" fill="none" />
<rect x="236.4" y="807.8" width="7.5" height="5.9" fill="#000"/>
<text x="250" y="814.7" font-family='"Liberation Sans", sans-serif' font-size="9.2" fill="#000" textLength="45.3" lengthAdjust="spacingAndGlyphs" >Residential</text>
<rect x="297.65" y="805.95" width="12" height="9.6" stroke="#000" stroke-width="1.3" fill="none" />
<text x="314" y="814.7" font-family='"Liberation Sans", sans-serif' font-size="9.2" fill="#000" textLength="48.5" lengthAdjust="spacingAndGlyphs" >Commercial</text>
<rect x="370.15" y="805.95" width="12" height="9.6" stroke="#000" stroke-width="1.3" fill="none" />
<text x="386.5" y="813.3" font-family='"Liberation Sans", sans-serif' font-size="9.2" fill="#000" textLength="38.2" lengthAdjust="spacingAndGlyphs" >Outswing</text>
<rect x="432.65" y="805.95" width="12.2" height="9.6" stroke="#000" stroke-width="1.3" fill="none" />
<text x="448.7" y="814.7" font-family='"Liberation Sans", sans-serif' font-size="9.2" fill="#000" textLength="14.6" lengthAdjust="spacingAndGlyphs" >N/A</text>
<line x1="792.6" y1="665" x2="792.6" y2="822.5" stroke="#000" stroke-width="1.5" />
<line x1="484.3" y1="665" x2="792.6" y2="665" stroke="#000" stroke-width="1.5" />
<line x1="484.3" y1="822" x2="792.6" y2="822" stroke="#000" stroke-width="1.5" />
<line x1="484.3" y1="691.2" x2="792.6" y2="691.2" stroke="#000" stroke-width="1.5" />
<line x1="484.3" y1="715.2" x2="792.6" y2="715.2" stroke="#000" stroke-width="1.5" />
<line x1="484.3" y1="745.3" x2="792.6" y2="745.3" stroke="#000" stroke-width="1.5" />
<line x1="484.3" y1="771.5" x2="792.6" y2="771.5" stroke="#000" stroke-width="1.5" />
<line x1="484.3" y1="799.2" x2="792.6" y2="799.2" stroke="#000" stroke-width="1.5" />
<line x1="594.7" y1="691.2" x2="594.7" y2="715.2" stroke="#000" stroke-width="1.5" />
<line x1="611.5" y1="715.2" x2="611.5" y2="745.3" stroke="#000" stroke-width="1.5" />
<line x1="633.9" y1="771.5" x2="633.9" y2="799.2" stroke="#000" stroke-width="1.5" />
<line x1="737.3" y1="799.2" x2="737.3" y2="822" stroke="#000" stroke-width="1.5" />
<text x="492.8" y="673.9" font-family='"Liberation Sans", sans-serif' font-size="9.2" fill="#000" textLength="73.9" lengthAdjust="spacingAndGlyphs" >DOOR/Glass type:</text>
<text x="502.7" y="685.3" font-family='"Liberation Sans", sans-serif' font-size="9.2" fill="#000" textLength="21.3" lengthAdjust="spacingAndGlyphs" >Frost</text>
<text x="546.7" y="685.3" font-family='"Liberation Sans", sans-serif' font-size="9.2" fill="#000" textLength="33.3" lengthAdjust="spacingAndGlyphs" >Aquatex</text>
<text x="603.5" y="685.3" font-family='"Liberation Sans", sans-serif' font-size="9.2" fill="#000" textLength="18.5" lengthAdjust="spacingAndGlyphs" >Rain</text>
<text x="650.7" y="685.3" font-family='"Liberation Sans", sans-serif' font-size="9.2" fill="#000" textLength="32.5" lengthAdjust="spacingAndGlyphs" >Flemish</text>
<text x="712.8" y="685.3" font-family='"Liberation Sans", sans-serif' font-size="9.2" fill="#000" textLength="21.9" lengthAdjust="spacingAndGlyphs" >Clear</text>
<text x="772.8" y="685.3" font-family='"Liberation Sans", sans-serif' font-size="9.2" fill="#000" textLength="15.2" lengthAdjust="spacingAndGlyphs" >N/A</text>
<rect x="496.65" y="697.95" width="12.6" height="9.9" stroke="#000" stroke-width="1.3" fill="none" />
<text x="512.5" y="706.7" font-family='"Liberation Sans", sans-serif' font-size="9.2" fill="#000" textLength="64" lengthAdjust="spacingAndGlyphs" >Hurricane rated</text>
<rect x="618.65" y="697.95" width="12.2" height="9.9" stroke="#000" stroke-width="1.3" fill="none" />
<rect x="620.9" y="699.8" width="7.7" height="6.2" fill="#000"/>
<text x="634.7" y="706.7" font-family='"Liberation Sans", sans-serif' font-size="9.2" fill="#000" textLength="37.8" lengthAdjust="spacingAndGlyphs" >Operable</text>
<rect x="676.15" y="697.95" width="12" height="9.9" stroke="#000" stroke-width="1.3" fill="none" />
<text x="692.5" y="706.5" font-family='"Liberation Sans", sans-serif' font-size="12.5" fill="#000" textLength="51.5" lengthAdjust="spacingAndGlyphs" >Screen or</text>
<rect x="752.65" y="697.95" width="11.5" height="9.9" stroke="#000" stroke-width="1.3" fill="none" />
<text x="768.8" y="706.7" font-family='"Liberation Sans", sans-serif' font-size="9.2" fill="#000" textLength="21.2" lengthAdjust="spacingAndGlyphs" >Fixed</text>
<text x="493.3" y="725.3" font-family='"Liberation Sans", sans-serif' font-size="9.2" fill="#000" textLength="43.5" lengthAdjust="spacingAndGlyphs" >TRANSOM</text>
<text x="493.9" y="736.8" font-family='"Liberation Sans", sans-serif' font-size="9.2" fill="#000" textLength="42.9" lengthAdjust="spacingAndGlyphs" >Glass type:</text>
<line x1="537.3" y1="739.5" x2="591.5" y2="739.5" stroke="#000" stroke-width="1.1" />
<text x="616.8" y="724.8" font-family='"Liberation Sans", sans-serif' font-size="9.2" fill="#000" textLength="52" lengthAdjust="spacingAndGlyphs" >SIDELIGHTS</text>
<text x="621.3" y="737.9" font-family='"Liberation Sans", sans-serif' font-size="9.2" fill="#000" textLength="45.4" lengthAdjust="spacingAndGlyphs" >Glass type:</text>
<line x1="666.7" y1="739.8" x2="717.3" y2="739.8" stroke="#000" stroke-width="1.1" />
<rect x="731.35" y="727.35" width="12.5" height="10.7" stroke="#000" stroke-width="1.3" fill="none" />
<text x="748" y="736" font-family='"Liberation Sans", sans-serif' font-size="9.2" fill="#000" textLength="28.8" lengthAdjust="spacingAndGlyphs" >Screen</text>
<text x="493.3" y="755.5" font-family='"Liberation Sans", sans-serif' font-size="9.2" fill="#000" textLength="20.8" lengthAdjust="spacingAndGlyphs" >TRIM</text>
<rect x="519.35" y="752.65" width="12.5" height="10.7" stroke="#000" stroke-width="1.3" fill="none" />
<text x="535.5" y="762.7" font-family='"Liberation Sans", sans-serif' font-size="9.2" fill="#000" textLength="24" lengthAdjust="spacingAndGlyphs" >Inside</text>
<line x1="564" y1="763.5" x2="593.3" y2="763.5" stroke="#000" stroke-width="1.1" />
<rect x="603.85" y="752.65" width="12.8" height="10.7" stroke="#000" stroke-width="1.3" fill="none" />
<text x="620.5" y="762.7" font-family='"Liberation Sans", sans-serif' font-size="9.2" fill="#000" textLength="31.5" lengthAdjust="spacingAndGlyphs" >Outside</text>
<line x1="655.2" y1="763.5" x2="684.8" y2="763.5" stroke="#000" stroke-width="1.1" />
<rect x="717.15" y="752.65" width="12.9" height="10.7" stroke="#000" stroke-width="1.3" fill="none" />
<rect x="719.4" y="754.5" width="8.4" height="7" fill="#000"/>
<text x="733.3" y="762.7" font-family='"Liberation Sans", sans-serif' font-size="9.2" fill="#000" textLength="15.5" lengthAdjust="spacingAndGlyphs" >N/A</text>
<text x="492.8" y="782.7" font-family='"Liberation Sans", sans-serif' font-size="9.2" fill="#000" textLength="41.9" lengthAdjust="spacingAndGlyphs" >PACKAGE</text>
<rect x="538.65" y="780.15" width="12.7" height="10.4" stroke="#000" stroke-width="1.3" fill="none" />
<text x="556" y="789.3" font-family='"Liberation Sans", sans-serif' font-size="9.2" fill="#000" textLength="15.2" lengthAdjust="spacingAndGlyphs" >Box</text>
<rect x="577.95" y="780.15" width="12.9" height="10.4" stroke="#000" stroke-width="1.3" fill="none" />
<text x="594.7" y="789.3" font-family='"Liberation Sans", sans-serif' font-size="9.2" fill="#000" textLength="28.8" lengthAdjust="spacingAndGlyphs" >No box</text>
<rect x="642.65" y="780.15" width="12.7" height="10.4" stroke="#000" stroke-width="1.3" fill="none" />
<text x="659.2" y="789.3" font-family='"Liberation Sans", sans-serif' font-size="9.2" fill="#000" textLength="24" lengthAdjust="spacingAndGlyphs" >Install</text>
<rect x="689.95" y="780.15" width="12.9" height="10.4" stroke="#000" stroke-width="1.3" fill="none" />
<text x="706" y="789.3" font-family='"Liberation Sans", sans-serif' font-size="9.2" fill="#000" textLength="32.7" lengthAdjust="spacingAndGlyphs" >Delivery</text>
<rect x="745.45" y="780.15" width="12.6" height="10.4" stroke="#000" stroke-width="1.3" fill="none" />
<text x="761.3" y="789.3" font-family='"Liberation Sans", sans-serif' font-size="9.2" fill="#000" textLength="15.2" lengthAdjust="spacingAndGlyphs" >LTL</text>
<text x="488" y="809.3" font-family='"Liberation Sans", sans-serif' font-size="9.2" fill="#000" textLength="77.9" lengthAdjust="spacingAndGlyphs" >GLASS TEMPLATE</text>
<rect x="569.95" y="806.65" width="12.1" height="10" stroke="#000" stroke-width="1.3" fill="none" />
<text x="586.1" y="816" font-family='"Liberation Sans", sans-serif' font-size="9.2" fill="#000" textLength="55.2" lengthAdjust="spacingAndGlyphs" >Sent #Pieces:</text>
<line x1="640" y1="816.5" x2="681.3" y2="816.5" stroke="#000" stroke-width="1.1" />
<rect x="693.95" y="806.65" width="12.1" height="10" stroke="#000" stroke-width="1.3" fill="none" />
<text x="709.9" y="816" font-family='"Liberation Sans", sans-serif' font-size="9.2" fill="#000" textLength="14.9" lengthAdjust="spacingAndGlyphs" >N/A</text>
<text x="742.7" y="812" font-family='"Liberation Sans", sans-serif' font-size="9.2" fill="#000" textLength="48" lengthAdjust="spacingAndGlyphs" >GAUGE: 14</text>
<rect x="793.3" y="664.8" width="193.9" height="156.5" stroke="#000" stroke-width="1.5" fill="none" />
<text x="799.3" y="680.2" font-family='"Liberation Sans", sans-serif' font-size="10.5" fill="#000" textLength="37" lengthAdjust="spacingAndGlyphs" >*Notes:</text>
<line x1="997.7" y1="784.5" x2="1195.8" y2="784.5" stroke="#000" stroke-width="2" />
<text x="1013.8" y="803.8" font-family='"Liberation Sans", sans-serif' font-size="14.2" fill="#000" textLength="169.4" lengthAdjust="spacingAndGlyphs" >CUSTOMERS APPROVAL</text>
</g>
<text x="799.3" y="698.8" font-family='"Liberation Sans", sans-serif' font-size="10.8" fill="#e8382c" textLength="66" lengthAdjust="spacingAndGlyphs" >-Color: Black</text>
<text x="799.3" y="719.8" font-family='"Liberation Sans", sans-serif' font-size="10.8" fill="#e8382c" textLength="56.4" lengthAdjust="spacingAndGlyphs" >-Glass:5/8"</text>
<text x="799.3" y="740.8" font-family='"Liberation Sans", sans-serif' font-size="10.8" fill="#e8382c" textLength="113.7" lengthAdjust="spacingAndGlyphs" >-Pull:Florence Twisted</text>
</svg>
</body></html>
